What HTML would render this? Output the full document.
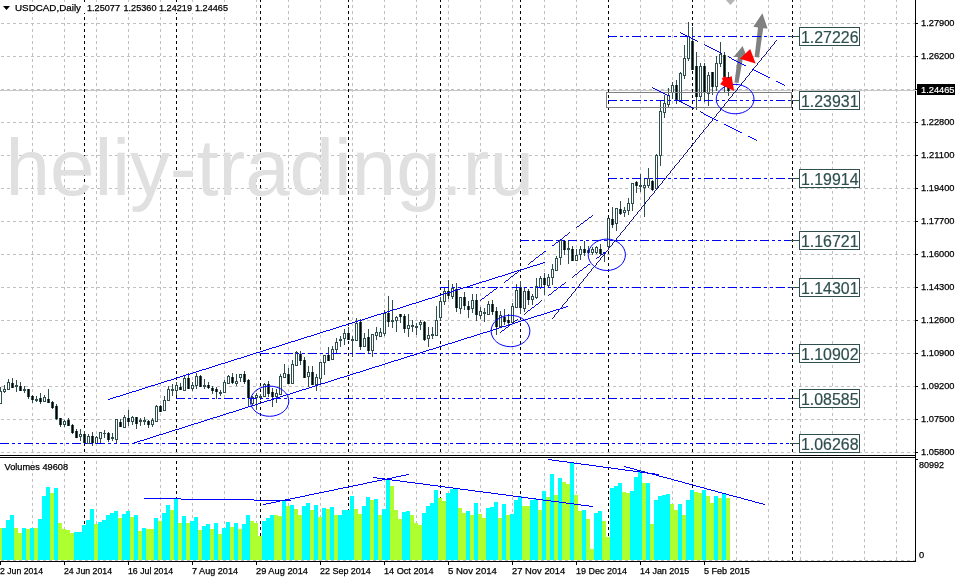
<!DOCTYPE html>
<html><head><meta charset="utf-8"><title>USDCAD,Daily</title>
<style>html,body{margin:0;padding:0;background:#fff;}body{width:955px;height:578px;overflow:hidden;}svg{display:block;}</style>
</head><body>
<svg width="955" height="578" viewBox="0 0 955 578" shape-rendering="crispEdges">
<rect x="0" y="0" width="955" height="578" fill="#FFFFFF"/>
<g stroke-width="1" fill="none">
<line x1="32.5" y1="-1" x2="32.5" y2="455" stroke="#C0C0C0" stroke-dasharray="3 3" stroke-dashoffset="0"/>
<line x1="32.5" y1="461" x2="32.5" y2="560" stroke="#C0C0C0" stroke-dasharray="3 3" stroke-dashoffset="0"/>
<line x1="64.5" y1="-1" x2="64.5" y2="455" stroke="#C0C0C0" stroke-dasharray="3 3" stroke-dashoffset="0"/>
<line x1="64.5" y1="461" x2="64.5" y2="560" stroke="#C0C0C0" stroke-dasharray="3 3" stroke-dashoffset="0"/>
<line x1="96.5" y1="-1" x2="96.5" y2="455" stroke="#C0C0C0" stroke-dasharray="3 3" stroke-dashoffset="0"/>
<line x1="96.5" y1="461" x2="96.5" y2="560" stroke="#C0C0C0" stroke-dasharray="3 3" stroke-dashoffset="0"/>
<line x1="128.5" y1="-1" x2="128.5" y2="455" stroke="#C0C0C0" stroke-dasharray="3 3" stroke-dashoffset="0"/>
<line x1="128.5" y1="461" x2="128.5" y2="560" stroke="#C0C0C0" stroke-dasharray="3 3" stroke-dashoffset="0"/>
<line x1="160.5" y1="-1" x2="160.5" y2="455" stroke="#C0C0C0" stroke-dasharray="3 3" stroke-dashoffset="0"/>
<line x1="160.5" y1="461" x2="160.5" y2="560" stroke="#C0C0C0" stroke-dasharray="3 3" stroke-dashoffset="0"/>
<line x1="192.5" y1="-1" x2="192.5" y2="455" stroke="#C0C0C0" stroke-dasharray="3 3" stroke-dashoffset="0"/>
<line x1="192.5" y1="461" x2="192.5" y2="560" stroke="#C0C0C0" stroke-dasharray="3 3" stroke-dashoffset="0"/>
<line x1="224.5" y1="-1" x2="224.5" y2="455" stroke="#C0C0C0" stroke-dasharray="3 3" stroke-dashoffset="0"/>
<line x1="224.5" y1="461" x2="224.5" y2="560" stroke="#C0C0C0" stroke-dasharray="3 3" stroke-dashoffset="0"/>
<line x1="256.5" y1="-1" x2="256.5" y2="455" stroke="#C0C0C0" stroke-dasharray="3 3" stroke-dashoffset="0"/>
<line x1="256.5" y1="461" x2="256.5" y2="560" stroke="#C0C0C0" stroke-dasharray="3 3" stroke-dashoffset="0"/>
<line x1="288.5" y1="-1" x2="288.5" y2="455" stroke="#C0C0C0" stroke-dasharray="3 3" stroke-dashoffset="0"/>
<line x1="288.5" y1="461" x2="288.5" y2="560" stroke="#C0C0C0" stroke-dasharray="3 3" stroke-dashoffset="0"/>
<line x1="320.5" y1="-1" x2="320.5" y2="455" stroke="#C0C0C0" stroke-dasharray="3 3" stroke-dashoffset="0"/>
<line x1="320.5" y1="461" x2="320.5" y2="560" stroke="#C0C0C0" stroke-dasharray="3 3" stroke-dashoffset="0"/>
<line x1="352.5" y1="-1" x2="352.5" y2="455" stroke="#C0C0C0" stroke-dasharray="3 3" stroke-dashoffset="0"/>
<line x1="352.5" y1="461" x2="352.5" y2="560" stroke="#C0C0C0" stroke-dasharray="3 3" stroke-dashoffset="0"/>
<line x1="384.5" y1="-1" x2="384.5" y2="455" stroke="#C0C0C0" stroke-dasharray="3 3" stroke-dashoffset="0"/>
<line x1="384.5" y1="461" x2="384.5" y2="560" stroke="#C0C0C0" stroke-dasharray="3 3" stroke-dashoffset="0"/>
<line x1="416.5" y1="-1" x2="416.5" y2="455" stroke="#C0C0C0" stroke-dasharray="3 3" stroke-dashoffset="0"/>
<line x1="416.5" y1="461" x2="416.5" y2="560" stroke="#C0C0C0" stroke-dasharray="3 3" stroke-dashoffset="0"/>
<line x1="448.5" y1="-1" x2="448.5" y2="455" stroke="#C0C0C0" stroke-dasharray="3 3" stroke-dashoffset="0"/>
<line x1="448.5" y1="461" x2="448.5" y2="560" stroke="#C0C0C0" stroke-dasharray="3 3" stroke-dashoffset="0"/>
<line x1="480.5" y1="-1" x2="480.5" y2="455" stroke="#C0C0C0" stroke-dasharray="3 3" stroke-dashoffset="0"/>
<line x1="480.5" y1="461" x2="480.5" y2="560" stroke="#C0C0C0" stroke-dasharray="3 3" stroke-dashoffset="0"/>
<line x1="512.5" y1="-1" x2="512.5" y2="455" stroke="#C0C0C0" stroke-dasharray="3 3" stroke-dashoffset="0"/>
<line x1="512.5" y1="461" x2="512.5" y2="560" stroke="#C0C0C0" stroke-dasharray="3 3" stroke-dashoffset="0"/>
<line x1="544.5" y1="-1" x2="544.5" y2="455" stroke="#C0C0C0" stroke-dasharray="3 3" stroke-dashoffset="0"/>
<line x1="544.5" y1="461" x2="544.5" y2="560" stroke="#C0C0C0" stroke-dasharray="3 3" stroke-dashoffset="0"/>
<line x1="576.5" y1="-1" x2="576.5" y2="455" stroke="#C0C0C0" stroke-dasharray="3 3" stroke-dashoffset="0"/>
<line x1="576.5" y1="461" x2="576.5" y2="560" stroke="#C0C0C0" stroke-dasharray="3 3" stroke-dashoffset="0"/>
<line x1="608.5" y1="-1" x2="608.5" y2="455" stroke="#C0C0C0" stroke-dasharray="3 3" stroke-dashoffset="0"/>
<line x1="608.5" y1="461" x2="608.5" y2="560" stroke="#C0C0C0" stroke-dasharray="3 3" stroke-dashoffset="0"/>
<line x1="640.5" y1="-1" x2="640.5" y2="455" stroke="#C0C0C0" stroke-dasharray="3 3" stroke-dashoffset="0"/>
<line x1="640.5" y1="461" x2="640.5" y2="560" stroke="#C0C0C0" stroke-dasharray="3 3" stroke-dashoffset="0"/>
<line x1="672.5" y1="-1" x2="672.5" y2="455" stroke="#C0C0C0" stroke-dasharray="3 3" stroke-dashoffset="0"/>
<line x1="672.5" y1="461" x2="672.5" y2="560" stroke="#C0C0C0" stroke-dasharray="3 3" stroke-dashoffset="0"/>
<line x1="704.5" y1="-1" x2="704.5" y2="455" stroke="#C0C0C0" stroke-dasharray="3 3" stroke-dashoffset="0"/>
<line x1="704.5" y1="461" x2="704.5" y2="560" stroke="#C0C0C0" stroke-dasharray="3 3" stroke-dashoffset="0"/>
<line x1="736.5" y1="-1" x2="736.5" y2="455" stroke="#C0C0C0" stroke-dasharray="3 3" stroke-dashoffset="0"/>
<line x1="736.5" y1="461" x2="736.5" y2="560" stroke="#C0C0C0" stroke-dasharray="3 3" stroke-dashoffset="0"/>
<line x1="768.5" y1="-1" x2="768.5" y2="455" stroke="#C0C0C0" stroke-dasharray="3 3" stroke-dashoffset="0"/>
<line x1="768.5" y1="461" x2="768.5" y2="560" stroke="#C0C0C0" stroke-dasharray="3 3" stroke-dashoffset="0"/>
<line x1="800.5" y1="-1" x2="800.5" y2="455" stroke="#C0C0C0" stroke-dasharray="3 3" stroke-dashoffset="0"/>
<line x1="800.5" y1="461" x2="800.5" y2="560" stroke="#C0C0C0" stroke-dasharray="3 3" stroke-dashoffset="0"/>
<line x1="832.5" y1="-1" x2="832.5" y2="455" stroke="#C0C0C0" stroke-dasharray="3 3" stroke-dashoffset="0"/>
<line x1="832.5" y1="461" x2="832.5" y2="560" stroke="#C0C0C0" stroke-dasharray="3 3" stroke-dashoffset="0"/>
<line x1="864.5" y1="-1" x2="864.5" y2="455" stroke="#C0C0C0" stroke-dasharray="3 3" stroke-dashoffset="0"/>
<line x1="864.5" y1="461" x2="864.5" y2="560" stroke="#C0C0C0" stroke-dasharray="3 3" stroke-dashoffset="0"/>
<line x1="896.5" y1="-1" x2="896.5" y2="455" stroke="#C0C0C0" stroke-dasharray="3 3" stroke-dashoffset="0"/>
<line x1="896.5" y1="461" x2="896.5" y2="560" stroke="#C0C0C0" stroke-dasharray="3 3" stroke-dashoffset="0"/>
<line x1="1" y1="23.5" x2="915" y2="23.5" stroke="#C0C0C0" stroke-dasharray="3 3" stroke-dashoffset="0"/>
<line x1="1" y1="56.5" x2="915" y2="56.5" stroke="#C0C0C0" stroke-dasharray="3 3" stroke-dashoffset="0"/>
<line x1="1" y1="89.5" x2="915" y2="89.5" stroke="#C0C0C0" stroke-dasharray="3 3" stroke-dashoffset="0"/>
<line x1="1" y1="122.5" x2="915" y2="122.5" stroke="#C0C0C0" stroke-dasharray="3 3" stroke-dashoffset="0"/>
<line x1="1" y1="155.5" x2="915" y2="155.5" stroke="#C0C0C0" stroke-dasharray="3 3" stroke-dashoffset="0"/>
<line x1="1" y1="188.5" x2="915" y2="188.5" stroke="#C0C0C0" stroke-dasharray="3 3" stroke-dashoffset="0"/>
<line x1="1" y1="221.5" x2="915" y2="221.5" stroke="#C0C0C0" stroke-dasharray="3 3" stroke-dashoffset="0"/>
<line x1="1" y1="254.5" x2="915" y2="254.5" stroke="#C0C0C0" stroke-dasharray="3 3" stroke-dashoffset="0"/>
<line x1="1" y1="287.5" x2="915" y2="287.5" stroke="#C0C0C0" stroke-dasharray="3 3" stroke-dashoffset="0"/>
<line x1="1" y1="320.5" x2="915" y2="320.5" stroke="#C0C0C0" stroke-dasharray="3 3" stroke-dashoffset="0"/>
<line x1="1" y1="353.5" x2="915" y2="353.5" stroke="#C0C0C0" stroke-dasharray="3 3" stroke-dashoffset="0"/>
<line x1="1" y1="386.5" x2="915" y2="386.5" stroke="#C0C0C0" stroke-dasharray="3 3" stroke-dashoffset="0"/>
<line x1="1" y1="419.5" x2="915" y2="419.5" stroke="#C0C0C0" stroke-dasharray="3 3" stroke-dashoffset="0"/>
<line x1="1" y1="452.5" x2="915" y2="452.5" stroke="#C0C0C0" stroke-dasharray="3 3" stroke-dashoffset="0"/>
<line x1="1" y1="560.5" x2="915" y2="560.5" stroke="#C0C0C0" stroke-dasharray="3 3" stroke-dashoffset="0"/>
<line x1="0" y1="90.5" x2="915" y2="90.5" stroke="#C8C8C8"/>
<line x1="84.5" y1="-1" x2="84.5" y2="455" stroke="#000000" stroke-dasharray="3 3" stroke-dashoffset="0"/>
<line x1="84.5" y1="461" x2="84.5" y2="561" stroke="#000000" stroke-dasharray="3 3" stroke-dashoffset="0"/>
<line x1="176.5" y1="-1" x2="176.5" y2="455" stroke="#000000" stroke-dasharray="3 3" stroke-dashoffset="0"/>
<line x1="176.5" y1="461" x2="176.5" y2="561" stroke="#000000" stroke-dasharray="3 3" stroke-dashoffset="0"/>
<line x1="260.5" y1="-1" x2="260.5" y2="455" stroke="#000000" stroke-dasharray="3 3" stroke-dashoffset="0"/>
<line x1="260.5" y1="461" x2="260.5" y2="561" stroke="#000000" stroke-dasharray="3 3" stroke-dashoffset="0"/>
<line x1="348.5" y1="-1" x2="348.5" y2="455" stroke="#000000" stroke-dasharray="3 3" stroke-dashoffset="0"/>
<line x1="348.5" y1="461" x2="348.5" y2="561" stroke="#000000" stroke-dasharray="3 3" stroke-dashoffset="0"/>
<line x1="440.5" y1="-1" x2="440.5" y2="455" stroke="#000000" stroke-dasharray="3 3" stroke-dashoffset="0"/>
<line x1="440.5" y1="461" x2="440.5" y2="561" stroke="#000000" stroke-dasharray="3 3" stroke-dashoffset="0"/>
<line x1="520.5" y1="-1" x2="520.5" y2="455" stroke="#000000" stroke-dasharray="3 3" stroke-dashoffset="0"/>
<line x1="520.5" y1="461" x2="520.5" y2="561" stroke="#000000" stroke-dasharray="3 3" stroke-dashoffset="0"/>
<line x1="608.5" y1="-1" x2="608.5" y2="455" stroke="#000000" stroke-dasharray="3 3" stroke-dashoffset="0"/>
<line x1="608.5" y1="461" x2="608.5" y2="561" stroke="#000000" stroke-dasharray="3 3" stroke-dashoffset="0"/>
<line x1="692.5" y1="-1" x2="692.5" y2="455" stroke="#000000" stroke-dasharray="3 3" stroke-dashoffset="0"/>
<line x1="692.5" y1="461" x2="692.5" y2="561" stroke="#000000" stroke-dasharray="3 3" stroke-dashoffset="0"/>
<line x1="792.5" y1="-1" x2="792.5" y2="455" stroke="#000000" stroke-dasharray="3 3" stroke-dashoffset="0"/>
<line x1="792.5" y1="461" x2="792.5" y2="561" stroke="#000000" stroke-dasharray="3 3" stroke-dashoffset="0"/>
</g>
<text x="5.6" y="194.5" font-family="Liberation Sans, Arial, sans-serif" font-size="80" fill="#E0E0E0" shape-rendering="auto" textLength="528.2" lengthAdjust="spacingAndGlyphs">heliy-trading.ru</text>
<g>
<rect x="0" y="387" width="1" height="17" fill="#2F4F4F"/>
<rect x="-1" y="391" width="3" height="13" fill="#2F4F4F"/>
<rect x="0" y="392" width="1" height="11" fill="#FFFFFF"/>
<rect x="4" y="385" width="1" height="8" fill="#2F4F4F"/>
<rect x="3" y="389" width="3" height="3" fill="#2F4F4F"/>
<rect x="4" y="390" width="1" height="1" fill="#FFFFFF"/>
<rect x="8" y="379" width="1" height="11" fill="#2F4F4F"/>
<rect x="7" y="382" width="3" height="8" fill="#2F4F4F"/>
<rect x="8" y="383" width="1" height="6" fill="#FFFFFF"/>
<rect x="12" y="378" width="1" height="10" fill="#2F4F4F"/>
<rect x="11" y="383" width="3" height="5" fill="#2F4F4F"/>
<rect x="12" y="383" width="1" height="5" fill="#000000"/>
<rect x="16" y="380" width="1" height="12" fill="#2F4F4F"/>
<rect x="15" y="385" width="3" height="2" fill="#2F4F4F"/>
<rect x="20" y="382" width="1" height="9" fill="#2F4F4F"/>
<rect x="19" y="386" width="3" height="5" fill="#2F4F4F"/>
<rect x="20" y="386" width="1" height="5" fill="#000000"/>
<rect x="24" y="386" width="1" height="7" fill="#2F4F4F"/>
<rect x="23" y="389" width="3" height="2" fill="#2F4F4F"/>
<rect x="28" y="389" width="1" height="10" fill="#2F4F4F"/>
<rect x="27" y="389" width="3" height="8" fill="#2F4F4F"/>
<rect x="28" y="389" width="1" height="8" fill="#000000"/>
<rect x="32" y="395" width="1" height="8" fill="#2F4F4F"/>
<rect x="31" y="396" width="3" height="4" fill="#2F4F4F"/>
<rect x="32" y="396" width="1" height="4" fill="#000000"/>
<rect x="36" y="396" width="1" height="6" fill="#2F4F4F"/>
<rect x="35" y="399" width="3" height="2" fill="#2F4F4F"/>
<rect x="40" y="393" width="1" height="11" fill="#2F4F4F"/>
<rect x="39" y="398" width="3" height="4" fill="#2F4F4F"/>
<rect x="40" y="398" width="1" height="4" fill="#000000"/>
<rect x="44" y="395" width="1" height="7" fill="#2F4F4F"/>
<rect x="43" y="397" width="3" height="5" fill="#2F4F4F"/>
<rect x="44" y="398" width="1" height="3" fill="#FFFFFF"/>
<rect x="48" y="389" width="1" height="14" fill="#2F4F4F"/>
<rect x="47" y="399" width="3" height="4" fill="#2F4F4F"/>
<rect x="48" y="399" width="1" height="4" fill="#000000"/>
<rect x="52" y="401" width="1" height="8" fill="#2F4F4F"/>
<rect x="51" y="402" width="3" height="6" fill="#2F4F4F"/>
<rect x="52" y="402" width="1" height="6" fill="#000000"/>
<rect x="56" y="404" width="1" height="16" fill="#2F4F4F"/>
<rect x="55" y="406" width="3" height="13" fill="#2F4F4F"/>
<rect x="56" y="406" width="1" height="13" fill="#000000"/>
<rect x="60" y="418" width="1" height="9" fill="#2F4F4F"/>
<rect x="59" y="418" width="3" height="7" fill="#2F4F4F"/>
<rect x="60" y="418" width="1" height="7" fill="#000000"/>
<rect x="64" y="420" width="1" height="7" fill="#2F4F4F"/>
<rect x="63" y="421" width="3" height="4" fill="#2F4F4F"/>
<rect x="64" y="422" width="1" height="2" fill="#FFFFFF"/>
<rect x="68" y="418" width="1" height="8" fill="#2F4F4F"/>
<rect x="67" y="420" width="3" height="6" fill="#2F4F4F"/>
<rect x="68" y="420" width="1" height="6" fill="#000000"/>
<rect x="72" y="424" width="1" height="10" fill="#2F4F4F"/>
<rect x="71" y="425" width="3" height="8" fill="#2F4F4F"/>
<rect x="72" y="425" width="1" height="8" fill="#000000"/>
<rect x="76" y="429" width="1" height="9" fill="#2F4F4F"/>
<rect x="75" y="431" width="3" height="7" fill="#2F4F4F"/>
<rect x="76" y="431" width="1" height="7" fill="#000000"/>
<rect x="80" y="429" width="1" height="12" fill="#2F4F4F"/>
<rect x="79" y="434" width="3" height="3" fill="#2F4F4F"/>
<rect x="80" y="435" width="1" height="1" fill="#FFFFFF"/>
<rect x="84" y="431" width="1" height="12" fill="#2F4F4F"/>
<rect x="83" y="434" width="3" height="9" fill="#2F4F4F"/>
<rect x="84" y="434" width="1" height="9" fill="#000000"/>
<rect x="88" y="434" width="1" height="10" fill="#2F4F4F"/>
<rect x="87" y="436" width="3" height="8" fill="#2F4F4F"/>
<rect x="88" y="437" width="1" height="6" fill="#FFFFFF"/>
<rect x="92" y="432" width="1" height="14" fill="#2F4F4F"/>
<rect x="91" y="436" width="3" height="7" fill="#2F4F4F"/>
<rect x="92" y="436" width="1" height="7" fill="#000000"/>
<rect x="96" y="436" width="1" height="8" fill="#2F4F4F"/>
<rect x="95" y="437" width="3" height="7" fill="#2F4F4F"/>
<rect x="96" y="438" width="1" height="5" fill="#FFFFFF"/>
<rect x="100" y="432" width="1" height="12" fill="#2F4F4F"/>
<rect x="99" y="432" width="3" height="7" fill="#2F4F4F"/>
<rect x="100" y="433" width="1" height="5" fill="#FFFFFF"/>
<rect x="104" y="430" width="1" height="8" fill="#2F4F4F"/>
<rect x="103" y="433" width="3" height="1" fill="#2F4F4F"/>
<rect x="108" y="432" width="1" height="10" fill="#2F4F4F"/>
<rect x="107" y="433" width="3" height="7" fill="#2F4F4F"/>
<rect x="108" y="433" width="1" height="7" fill="#000000"/>
<rect x="112" y="433" width="1" height="8" fill="#2F4F4F"/>
<rect x="111" y="437" width="3" height="2" fill="#2F4F4F"/>
<rect x="116" y="419" width="1" height="25" fill="#2F4F4F"/>
<rect x="115" y="419" width="3" height="21" fill="#2F4F4F"/>
<rect x="116" y="420" width="1" height="19" fill="#FFFFFF"/>
<rect x="120" y="419" width="1" height="8" fill="#2F4F4F"/>
<rect x="119" y="422" width="3" height="5" fill="#2F4F4F"/>
<rect x="120" y="422" width="1" height="5" fill="#000000"/>
<rect x="124" y="415" width="1" height="13" fill="#2F4F4F"/>
<rect x="123" y="417" width="3" height="11" fill="#2F4F4F"/>
<rect x="124" y="418" width="1" height="9" fill="#FFFFFF"/>
<rect x="128" y="410" width="1" height="16" fill="#2F4F4F"/>
<rect x="127" y="418" width="3" height="4" fill="#2F4F4F"/>
<rect x="128" y="418" width="1" height="4" fill="#000000"/>
<rect x="132" y="416" width="1" height="9" fill="#2F4F4F"/>
<rect x="131" y="417" width="3" height="5" fill="#2F4F4F"/>
<rect x="132" y="418" width="1" height="3" fill="#FFFFFF"/>
<rect x="136" y="417" width="1" height="12" fill="#2F4F4F"/>
<rect x="135" y="417" width="3" height="7" fill="#2F4F4F"/>
<rect x="136" y="417" width="1" height="7" fill="#000000"/>
<rect x="140" y="418" width="1" height="8" fill="#2F4F4F"/>
<rect x="139" y="420" width="3" height="2" fill="#2F4F4F"/>
<rect x="144" y="417" width="1" height="8" fill="#2F4F4F"/>
<rect x="143" y="420" width="3" height="2" fill="#2F4F4F"/>
<rect x="148" y="420" width="1" height="8" fill="#2F4F4F"/>
<rect x="147" y="421" width="3" height="4" fill="#2F4F4F"/>
<rect x="148" y="421" width="1" height="4" fill="#000000"/>
<rect x="152" y="418" width="1" height="9" fill="#2F4F4F"/>
<rect x="151" y="420" width="3" height="5" fill="#2F4F4F"/>
<rect x="152" y="421" width="1" height="3" fill="#FFFFFF"/>
<rect x="156" y="405" width="1" height="17" fill="#2F4F4F"/>
<rect x="155" y="406" width="3" height="16" fill="#2F4F4F"/>
<rect x="156" y="407" width="1" height="14" fill="#FFFFFF"/>
<rect x="160" y="405" width="1" height="7" fill="#2F4F4F"/>
<rect x="159" y="406" width="3" height="6" fill="#2F4F4F"/>
<rect x="160" y="406" width="1" height="6" fill="#000000"/>
<rect x="164" y="396" width="1" height="15" fill="#2F4F4F"/>
<rect x="163" y="400" width="3" height="11" fill="#2F4F4F"/>
<rect x="164" y="401" width="1" height="9" fill="#FFFFFF"/>
<rect x="168" y="386" width="1" height="15" fill="#2F4F4F"/>
<rect x="167" y="389" width="3" height="12" fill="#2F4F4F"/>
<rect x="168" y="390" width="1" height="10" fill="#FFFFFF"/>
<rect x="172" y="384" width="1" height="12" fill="#2F4F4F"/>
<rect x="171" y="389" width="3" height="2" fill="#2F4F4F"/>
<rect x="176" y="382" width="1" height="13" fill="#2F4F4F"/>
<rect x="175" y="385" width="3" height="6" fill="#2F4F4F"/>
<rect x="176" y="386" width="1" height="4" fill="#FFFFFF"/>
<rect x="180" y="383" width="1" height="7" fill="#2F4F4F"/>
<rect x="179" y="387" width="3" height="3" fill="#2F4F4F"/>
<rect x="180" y="387" width="1" height="3" fill="#000000"/>
<rect x="184" y="376" width="1" height="15" fill="#2F4F4F"/>
<rect x="183" y="378" width="3" height="13" fill="#2F4F4F"/>
<rect x="184" y="379" width="1" height="11" fill="#FFFFFF"/>
<rect x="188" y="373" width="1" height="16" fill="#2F4F4F"/>
<rect x="187" y="378" width="3" height="11" fill="#2F4F4F"/>
<rect x="188" y="378" width="1" height="11" fill="#000000"/>
<rect x="192" y="382" width="1" height="9" fill="#2F4F4F"/>
<rect x="191" y="385" width="3" height="4" fill="#2F4F4F"/>
<rect x="192" y="386" width="1" height="2" fill="#FFFFFF"/>
<rect x="196" y="373" width="1" height="16" fill="#2F4F4F"/>
<rect x="195" y="376" width="3" height="10" fill="#2F4F4F"/>
<rect x="196" y="377" width="1" height="8" fill="#FFFFFF"/>
<rect x="200" y="375" width="1" height="12" fill="#2F4F4F"/>
<rect x="199" y="376" width="3" height="11" fill="#2F4F4F"/>
<rect x="200" y="376" width="1" height="11" fill="#000000"/>
<rect x="204" y="379" width="1" height="10" fill="#2F4F4F"/>
<rect x="203" y="385" width="3" height="2" fill="#2F4F4F"/>
<rect x="208" y="382" width="1" height="7" fill="#2F4F4F"/>
<rect x="207" y="385" width="3" height="3" fill="#2F4F4F"/>
<rect x="208" y="385" width="1" height="3" fill="#000000"/>
<rect x="212" y="386" width="1" height="8" fill="#2F4F4F"/>
<rect x="211" y="388" width="3" height="3" fill="#2F4F4F"/>
<rect x="212" y="388" width="1" height="3" fill="#000000"/>
<rect x="216" y="387" width="1" height="12" fill="#2F4F4F"/>
<rect x="215" y="389" width="3" height="3" fill="#2F4F4F"/>
<rect x="216" y="389" width="1" height="3" fill="#000000"/>
<rect x="220" y="390" width="1" height="6" fill="#2F4F4F"/>
<rect x="219" y="392" width="3" height="2" fill="#2F4F4F"/>
<rect x="224" y="380" width="1" height="13" fill="#2F4F4F"/>
<rect x="223" y="382" width="3" height="11" fill="#2F4F4F"/>
<rect x="224" y="383" width="1" height="9" fill="#FFFFFF"/>
<rect x="228" y="375" width="1" height="9" fill="#2F4F4F"/>
<rect x="227" y="376" width="3" height="8" fill="#2F4F4F"/>
<rect x="228" y="377" width="1" height="6" fill="#FFFFFF"/>
<rect x="232" y="373" width="1" height="11" fill="#2F4F4F"/>
<rect x="231" y="377" width="3" height="6" fill="#2F4F4F"/>
<rect x="232" y="377" width="1" height="6" fill="#000000"/>
<rect x="236" y="374" width="1" height="12" fill="#2F4F4F"/>
<rect x="235" y="381" width="3" height="3" fill="#2F4F4F"/>
<rect x="236" y="382" width="1" height="1" fill="#FFFFFF"/>
<rect x="240" y="374" width="1" height="8" fill="#2F4F4F"/>
<rect x="239" y="374" width="3" height="4" fill="#2F4F4F"/>
<rect x="240" y="375" width="1" height="2" fill="#FFFFFF"/>
<rect x="244" y="371" width="1" height="13" fill="#2F4F4F"/>
<rect x="243" y="374" width="3" height="8" fill="#2F4F4F"/>
<rect x="244" y="374" width="1" height="8" fill="#000000"/>
<rect x="248" y="379" width="1" height="27" fill="#2F4F4F"/>
<rect x="247" y="380" width="3" height="18" fill="#2F4F4F"/>
<rect x="248" y="380" width="1" height="18" fill="#000000"/>
<rect x="252" y="396" width="1" height="9" fill="#2F4F4F"/>
<rect x="251" y="397" width="3" height="7" fill="#2F4F4F"/>
<rect x="252" y="398" width="1" height="5" fill="#FFFFFF"/>
<rect x="256" y="393" width="1" height="17" fill="#2F4F4F"/>
<rect x="255" y="395" width="3" height="3" fill="#2F4F4F"/>
<rect x="256" y="396" width="1" height="1" fill="#FFFFFF"/>
<rect x="260" y="394" width="1" height="6" fill="#2F4F4F"/>
<rect x="259" y="396" width="3" height="2" fill="#2F4F4F"/>
<rect x="264" y="383" width="1" height="14" fill="#2F4F4F"/>
<rect x="263" y="384" width="3" height="13" fill="#2F4F4F"/>
<rect x="264" y="385" width="1" height="11" fill="#FFFFFF"/>
<rect x="268" y="381" width="1" height="16" fill="#2F4F4F"/>
<rect x="267" y="384" width="3" height="10" fill="#2F4F4F"/>
<rect x="268" y="384" width="1" height="10" fill="#000000"/>
<rect x="272" y="388" width="1" height="19" fill="#2F4F4F"/>
<rect x="271" y="392" width="3" height="5" fill="#2F4F4F"/>
<rect x="272" y="392" width="1" height="5" fill="#000000"/>
<rect x="276" y="389" width="1" height="14" fill="#2F4F4F"/>
<rect x="275" y="393" width="3" height="4" fill="#2F4F4F"/>
<rect x="276" y="394" width="1" height="2" fill="#FFFFFF"/>
<rect x="280" y="374" width="1" height="21" fill="#2F4F4F"/>
<rect x="279" y="376" width="3" height="19" fill="#2F4F4F"/>
<rect x="280" y="377" width="1" height="17" fill="#FFFFFF"/>
<rect x="284" y="364" width="1" height="14" fill="#2F4F4F"/>
<rect x="283" y="373" width="3" height="5" fill="#2F4F4F"/>
<rect x="284" y="374" width="1" height="3" fill="#FFFFFF"/>
<rect x="288" y="368" width="1" height="16" fill="#2F4F4F"/>
<rect x="287" y="374" width="3" height="10" fill="#2F4F4F"/>
<rect x="288" y="374" width="1" height="10" fill="#000000"/>
<rect x="292" y="360" width="1" height="24" fill="#2F4F4F"/>
<rect x="291" y="364" width="3" height="20" fill="#2F4F4F"/>
<rect x="292" y="365" width="1" height="18" fill="#FFFFFF"/>
<rect x="296" y="351" width="1" height="15" fill="#2F4F4F"/>
<rect x="295" y="352" width="3" height="14" fill="#2F4F4F"/>
<rect x="296" y="353" width="1" height="12" fill="#FFFFFF"/>
<rect x="300" y="351" width="1" height="14" fill="#2F4F4F"/>
<rect x="299" y="354" width="3" height="7" fill="#2F4F4F"/>
<rect x="300" y="354" width="1" height="7" fill="#000000"/>
<rect x="304" y="357" width="1" height="21" fill="#2F4F4F"/>
<rect x="303" y="360" width="3" height="18" fill="#2F4F4F"/>
<rect x="304" y="360" width="1" height="18" fill="#000000"/>
<rect x="308" y="366" width="1" height="21" fill="#2F4F4F"/>
<rect x="307" y="372" width="3" height="5" fill="#2F4F4F"/>
<rect x="308" y="373" width="1" height="3" fill="#FFFFFF"/>
<rect x="312" y="366" width="1" height="19" fill="#2F4F4F"/>
<rect x="311" y="372" width="3" height="13" fill="#2F4F4F"/>
<rect x="312" y="372" width="1" height="13" fill="#000000"/>
<rect x="316" y="374" width="1" height="17" fill="#2F4F4F"/>
<rect x="315" y="377" width="3" height="8" fill="#2F4F4F"/>
<rect x="316" y="378" width="1" height="6" fill="#FFFFFF"/>
<rect x="320" y="362" width="1" height="22" fill="#2F4F4F"/>
<rect x="319" y="362" width="3" height="17" fill="#2F4F4F"/>
<rect x="320" y="363" width="1" height="15" fill="#FFFFFF"/>
<rect x="324" y="355" width="1" height="20" fill="#2F4F4F"/>
<rect x="323" y="355" width="3" height="8" fill="#2F4F4F"/>
<rect x="324" y="356" width="1" height="6" fill="#FFFFFF"/>
<rect x="328" y="347" width="1" height="14" fill="#2F4F4F"/>
<rect x="327" y="355" width="3" height="6" fill="#2F4F4F"/>
<rect x="328" y="355" width="1" height="6" fill="#000000"/>
<rect x="332" y="346" width="1" height="14" fill="#2F4F4F"/>
<rect x="331" y="349" width="3" height="11" fill="#2F4F4F"/>
<rect x="332" y="350" width="1" height="9" fill="#FFFFFF"/>
<rect x="336" y="338" width="1" height="16" fill="#2F4F4F"/>
<rect x="335" y="342" width="3" height="8" fill="#2F4F4F"/>
<rect x="336" y="343" width="1" height="6" fill="#FFFFFF"/>
<rect x="340" y="336" width="1" height="11" fill="#2F4F4F"/>
<rect x="339" y="339" width="3" height="2" fill="#2F4F4F"/>
<rect x="344" y="329" width="1" height="16" fill="#2F4F4F"/>
<rect x="343" y="333" width="3" height="6" fill="#2F4F4F"/>
<rect x="344" y="334" width="1" height="4" fill="#FFFFFF"/>
<rect x="348" y="327" width="1" height="13" fill="#2F4F4F"/>
<rect x="347" y="333" width="3" height="7" fill="#2F4F4F"/>
<rect x="348" y="333" width="1" height="7" fill="#000000"/>
<rect x="352" y="336" width="1" height="21" fill="#2F4F4F"/>
<rect x="351" y="339" width="3" height="2" fill="#2F4F4F"/>
<rect x="356" y="318" width="1" height="23" fill="#2F4F4F"/>
<rect x="355" y="323" width="3" height="18" fill="#2F4F4F"/>
<rect x="356" y="324" width="1" height="16" fill="#FFFFFF"/>
<rect x="360" y="319" width="1" height="31" fill="#2F4F4F"/>
<rect x="359" y="322" width="3" height="25" fill="#2F4F4F"/>
<rect x="360" y="322" width="1" height="25" fill="#000000"/>
<rect x="364" y="333" width="1" height="14" fill="#2F4F4F"/>
<rect x="363" y="338" width="3" height="9" fill="#2F4F4F"/>
<rect x="364" y="339" width="1" height="7" fill="#FFFFFF"/>
<rect x="368" y="329" width="1" height="25" fill="#2F4F4F"/>
<rect x="367" y="337" width="3" height="14" fill="#2F4F4F"/>
<rect x="368" y="337" width="1" height="14" fill="#000000"/>
<rect x="372" y="334" width="1" height="23" fill="#2F4F4F"/>
<rect x="371" y="334" width="3" height="17" fill="#2F4F4F"/>
<rect x="372" y="335" width="1" height="15" fill="#FFFFFF"/>
<rect x="376" y="327" width="1" height="13" fill="#2F4F4F"/>
<rect x="375" y="332" width="3" height="4" fill="#2F4F4F"/>
<rect x="376" y="333" width="1" height="2" fill="#FFFFFF"/>
<rect x="380" y="328" width="1" height="9" fill="#2F4F4F"/>
<rect x="379" y="332" width="3" height="5" fill="#2F4F4F"/>
<rect x="380" y="333" width="1" height="3" fill="#FFFFFF"/>
<rect x="384" y="310" width="1" height="26" fill="#2F4F4F"/>
<rect x="383" y="313" width="3" height="21" fill="#2F4F4F"/>
<rect x="384" y="314" width="1" height="19" fill="#FFFFFF"/>
<rect x="388" y="296" width="1" height="31" fill="#2F4F4F"/>
<rect x="387" y="313" width="3" height="9" fill="#2F4F4F"/>
<rect x="388" y="313" width="1" height="9" fill="#000000"/>
<rect x="392" y="300" width="1" height="28" fill="#2F4F4F"/>
<rect x="391" y="320" width="3" height="2" fill="#2F4F4F"/>
<rect x="396" y="316" width="1" height="16" fill="#2F4F4F"/>
<rect x="395" y="317" width="3" height="4" fill="#2F4F4F"/>
<rect x="396" y="318" width="1" height="2" fill="#FFFFFF"/>
<rect x="400" y="314" width="1" height="9" fill="#2F4F4F"/>
<rect x="399" y="314" width="3" height="3" fill="#2F4F4F"/>
<rect x="400" y="314" width="1" height="3" fill="#000000"/>
<rect x="404" y="314" width="1" height="19" fill="#2F4F4F"/>
<rect x="403" y="316" width="3" height="13" fill="#2F4F4F"/>
<rect x="404" y="316" width="1" height="13" fill="#000000"/>
<rect x="408" y="314" width="1" height="23" fill="#2F4F4F"/>
<rect x="407" y="325" width="3" height="4" fill="#2F4F4F"/>
<rect x="408" y="326" width="1" height="2" fill="#FFFFFF"/>
<rect x="412" y="320" width="1" height="12" fill="#2F4F4F"/>
<rect x="411" y="325" width="3" height="2" fill="#2F4F4F"/>
<rect x="416" y="323" width="1" height="12" fill="#2F4F4F"/>
<rect x="415" y="326" width="3" height="2" fill="#2F4F4F"/>
<rect x="420" y="320" width="1" height="10" fill="#2F4F4F"/>
<rect x="419" y="322" width="3" height="3" fill="#2F4F4F"/>
<rect x="420" y="323" width="1" height="1" fill="#FFFFFF"/>
<rect x="424" y="321" width="1" height="20" fill="#2F4F4F"/>
<rect x="423" y="322" width="3" height="18" fill="#2F4F4F"/>
<rect x="424" y="322" width="1" height="18" fill="#000000"/>
<rect x="428" y="327" width="1" height="20" fill="#2F4F4F"/>
<rect x="427" y="335" width="3" height="4" fill="#2F4F4F"/>
<rect x="428" y="336" width="1" height="2" fill="#FFFFFF"/>
<rect x="432" y="327" width="1" height="12" fill="#2F4F4F"/>
<rect x="431" y="334" width="3" height="2" fill="#2F4F4F"/>
<rect x="436" y="306" width="1" height="30" fill="#2F4F4F"/>
<rect x="435" y="320" width="3" height="16" fill="#2F4F4F"/>
<rect x="436" y="321" width="1" height="14" fill="#FFFFFF"/>
<rect x="440" y="297" width="1" height="24" fill="#2F4F4F"/>
<rect x="439" y="301" width="3" height="17" fill="#2F4F4F"/>
<rect x="440" y="302" width="1" height="15" fill="#FFFFFF"/>
<rect x="444" y="288" width="1" height="17" fill="#2F4F4F"/>
<rect x="443" y="291" width="3" height="11" fill="#2F4F4F"/>
<rect x="444" y="292" width="1" height="9" fill="#FFFFFF"/>
<rect x="448" y="280" width="1" height="19" fill="#2F4F4F"/>
<rect x="447" y="291" width="3" height="5" fill="#2F4F4F"/>
<rect x="448" y="291" width="1" height="5" fill="#000000"/>
<rect x="452" y="284" width="1" height="15" fill="#2F4F4F"/>
<rect x="451" y="288" width="3" height="9" fill="#2F4F4F"/>
<rect x="452" y="289" width="1" height="7" fill="#FFFFFF"/>
<rect x="456" y="283" width="1" height="29" fill="#2F4F4F"/>
<rect x="455" y="289" width="3" height="19" fill="#2F4F4F"/>
<rect x="456" y="289" width="1" height="19" fill="#000000"/>
<rect x="460" y="297" width="1" height="17" fill="#2F4F4F"/>
<rect x="459" y="297" width="3" height="12" fill="#2F4F4F"/>
<rect x="460" y="298" width="1" height="10" fill="#FFFFFF"/>
<rect x="464" y="292" width="1" height="18" fill="#2F4F4F"/>
<rect x="463" y="297" width="3" height="9" fill="#2F4F4F"/>
<rect x="464" y="297" width="1" height="9" fill="#000000"/>
<rect x="468" y="301" width="1" height="17" fill="#2F4F4F"/>
<rect x="467" y="306" width="3" height="4" fill="#2F4F4F"/>
<rect x="468" y="306" width="1" height="4" fill="#000000"/>
<rect x="472" y="294" width="1" height="19" fill="#2F4F4F"/>
<rect x="471" y="300" width="3" height="9" fill="#2F4F4F"/>
<rect x="472" y="301" width="1" height="7" fill="#FFFFFF"/>
<rect x="476" y="294" width="1" height="27" fill="#2F4F4F"/>
<rect x="475" y="300" width="3" height="15" fill="#2F4F4F"/>
<rect x="476" y="300" width="1" height="15" fill="#000000"/>
<rect x="480" y="307" width="1" height="12" fill="#2F4F4F"/>
<rect x="479" y="311" width="3" height="5" fill="#2F4F4F"/>
<rect x="480" y="312" width="1" height="3" fill="#FFFFFF"/>
<rect x="484" y="308" width="1" height="14" fill="#2F4F4F"/>
<rect x="483" y="312" width="3" height="2" fill="#2F4F4F"/>
<rect x="488" y="301" width="1" height="14" fill="#2F4F4F"/>
<rect x="487" y="304" width="3" height="11" fill="#2F4F4F"/>
<rect x="488" y="305" width="1" height="9" fill="#FFFFFF"/>
<rect x="492" y="300" width="1" height="15" fill="#2F4F4F"/>
<rect x="491" y="304" width="3" height="8" fill="#2F4F4F"/>
<rect x="492" y="304" width="1" height="8" fill="#000000"/>
<rect x="496" y="307" width="1" height="28" fill="#2F4F4F"/>
<rect x="495" y="311" width="3" height="16" fill="#2F4F4F"/>
<rect x="496" y="311" width="1" height="16" fill="#000000"/>
<rect x="500" y="311" width="1" height="16" fill="#2F4F4F"/>
<rect x="499" y="315" width="3" height="12" fill="#2F4F4F"/>
<rect x="500" y="316" width="1" height="10" fill="#FFFFFF"/>
<rect x="504" y="309" width="1" height="16" fill="#2F4F4F"/>
<rect x="503" y="317" width="3" height="5" fill="#2F4F4F"/>
<rect x="504" y="317" width="1" height="5" fill="#000000"/>
<rect x="508" y="314" width="1" height="11" fill="#2F4F4F"/>
<rect x="507" y="320" width="3" height="3" fill="#2F4F4F"/>
<rect x="508" y="320" width="1" height="3" fill="#000000"/>
<rect x="512" y="303" width="1" height="20" fill="#2F4F4F"/>
<rect x="511" y="306" width="3" height="17" fill="#2F4F4F"/>
<rect x="512" y="307" width="1" height="15" fill="#FFFFFF"/>
<rect x="516" y="284" width="1" height="24" fill="#2F4F4F"/>
<rect x="515" y="290" width="3" height="18" fill="#2F4F4F"/>
<rect x="516" y="291" width="1" height="16" fill="#FFFFFF"/>
<rect x="520" y="281" width="1" height="33" fill="#2F4F4F"/>
<rect x="519" y="287" width="3" height="21" fill="#2F4F4F"/>
<rect x="520" y="287" width="1" height="21" fill="#000000"/>
<rect x="524" y="288" width="1" height="24" fill="#2F4F4F"/>
<rect x="523" y="291" width="3" height="18" fill="#2F4F4F"/>
<rect x="524" y="292" width="1" height="16" fill="#FFFFFF"/>
<rect x="528" y="289" width="1" height="16" fill="#2F4F4F"/>
<rect x="527" y="291" width="3" height="9" fill="#2F4F4F"/>
<rect x="528" y="291" width="1" height="9" fill="#000000"/>
<rect x="532" y="294" width="1" height="11" fill="#2F4F4F"/>
<rect x="531" y="296" width="3" height="4" fill="#2F4F4F"/>
<rect x="532" y="297" width="1" height="2" fill="#FFFFFF"/>
<rect x="536" y="278" width="1" height="21" fill="#2F4F4F"/>
<rect x="535" y="286" width="3" height="12" fill="#2F4F4F"/>
<rect x="536" y="287" width="1" height="10" fill="#FFFFFF"/>
<rect x="540" y="276" width="1" height="13" fill="#2F4F4F"/>
<rect x="539" y="278" width="3" height="10" fill="#2F4F4F"/>
<rect x="540" y="279" width="1" height="8" fill="#FFFFFF"/>
<rect x="544" y="273" width="1" height="22" fill="#2F4F4F"/>
<rect x="543" y="278" width="3" height="7" fill="#2F4F4F"/>
<rect x="544" y="278" width="1" height="7" fill="#000000"/>
<rect x="548" y="274" width="1" height="14" fill="#2F4F4F"/>
<rect x="547" y="277" width="3" height="9" fill="#2F4F4F"/>
<rect x="548" y="278" width="1" height="7" fill="#FFFFFF"/>
<rect x="552" y="264" width="1" height="21" fill="#2F4F4F"/>
<rect x="551" y="269" width="3" height="9" fill="#2F4F4F"/>
<rect x="552" y="270" width="1" height="7" fill="#FFFFFF"/>
<rect x="556" y="256" width="1" height="15" fill="#2F4F4F"/>
<rect x="555" y="258" width="3" height="13" fill="#2F4F4F"/>
<rect x="556" y="259" width="1" height="11" fill="#FFFFFF"/>
<rect x="560" y="240" width="1" height="25" fill="#2F4F4F"/>
<rect x="559" y="240" width="3" height="18" fill="#2F4F4F"/>
<rect x="560" y="241" width="1" height="16" fill="#FFFFFF"/>
<rect x="564" y="240" width="1" height="15" fill="#2F4F4F"/>
<rect x="563" y="241" width="3" height="9" fill="#2F4F4F"/>
<rect x="564" y="241" width="1" height="9" fill="#000000"/>
<rect x="568" y="241" width="1" height="23" fill="#2F4F4F"/>
<rect x="567" y="248" width="3" height="2" fill="#2F4F4F"/>
<rect x="572" y="246" width="1" height="15" fill="#2F4F4F"/>
<rect x="571" y="249" width="3" height="12" fill="#2F4F4F"/>
<rect x="572" y="249" width="1" height="12" fill="#000000"/>
<rect x="576" y="249" width="1" height="12" fill="#2F4F4F"/>
<rect x="575" y="255" width="3" height="6" fill="#2F4F4F"/>
<rect x="576" y="256" width="1" height="4" fill="#FFFFFF"/>
<rect x="580" y="246" width="1" height="14" fill="#2F4F4F"/>
<rect x="579" y="249" width="3" height="6" fill="#2F4F4F"/>
<rect x="580" y="250" width="1" height="4" fill="#FFFFFF"/>
<rect x="584" y="241" width="1" height="15" fill="#2F4F4F"/>
<rect x="583" y="249" width="3" height="4" fill="#2F4F4F"/>
<rect x="584" y="249" width="1" height="4" fill="#000000"/>
<rect x="588" y="246" width="1" height="8" fill="#2F4F4F"/>
<rect x="587" y="250" width="3" height="3" fill="#2F4F4F"/>
<rect x="588" y="250" width="1" height="3" fill="#000000"/>
<rect x="592" y="247" width="1" height="8" fill="#2F4F4F"/>
<rect x="591" y="249" width="3" height="4" fill="#2F4F4F"/>
<rect x="592" y="250" width="1" height="2" fill="#FFFFFF"/>
<rect x="596" y="246" width="1" height="8" fill="#2F4F4F"/>
<rect x="595" y="247" width="3" height="6" fill="#2F4F4F"/>
<rect x="596" y="248" width="1" height="4" fill="#FFFFFF"/>
<rect x="600" y="244" width="1" height="11" fill="#2F4F4F"/>
<rect x="599" y="249" width="3" height="5" fill="#2F4F4F"/>
<rect x="600" y="249" width="1" height="5" fill="#000000"/>
<rect x="604" y="252" width="1" height="10" fill="#2F4F4F"/>
<rect x="603" y="252" width="3" height="2" fill="#2F4F4F"/>
<rect x="608" y="218" width="1" height="30" fill="#2F4F4F"/>
<rect x="607" y="218" width="3" height="29" fill="#2F4F4F"/>
<rect x="608" y="219" width="1" height="27" fill="#FFFFFF"/>
<rect x="612" y="207" width="1" height="21" fill="#2F4F4F"/>
<rect x="611" y="219" width="3" height="6" fill="#2F4F4F"/>
<rect x="612" y="219" width="1" height="6" fill="#000000"/>
<rect x="616" y="208" width="1" height="23" fill="#2F4F4F"/>
<rect x="615" y="208" width="3" height="16" fill="#2F4F4F"/>
<rect x="616" y="209" width="1" height="14" fill="#FFFFFF"/>
<rect x="620" y="201" width="1" height="14" fill="#2F4F4F"/>
<rect x="619" y="209" width="3" height="5" fill="#2F4F4F"/>
<rect x="620" y="209" width="1" height="5" fill="#000000"/>
<rect x="624" y="207" width="1" height="10" fill="#2F4F4F"/>
<rect x="623" y="210" width="3" height="3" fill="#2F4F4F"/>
<rect x="624" y="211" width="1" height="1" fill="#FFFFFF"/>
<rect x="628" y="198" width="1" height="17" fill="#2F4F4F"/>
<rect x="627" y="203" width="3" height="8" fill="#2F4F4F"/>
<rect x="628" y="204" width="1" height="6" fill="#FFFFFF"/>
<rect x="632" y="183" width="1" height="28" fill="#2F4F4F"/>
<rect x="631" y="183" width="3" height="21" fill="#2F4F4F"/>
<rect x="632" y="184" width="1" height="19" fill="#FFFFFF"/>
<rect x="636" y="181" width="1" height="12" fill="#2F4F4F"/>
<rect x="635" y="182" width="3" height="4" fill="#2F4F4F"/>
<rect x="636" y="182" width="1" height="4" fill="#000000"/>
<rect x="640" y="174" width="1" height="18" fill="#2F4F4F"/>
<rect x="639" y="185" width="3" height="2" fill="#2F4F4F"/>
<rect x="644" y="178" width="1" height="39" fill="#2F4F4F"/>
<rect x="643" y="185" width="3" height="3" fill="#2F4F4F"/>
<rect x="644" y="186" width="1" height="1" fill="#FFFFFF"/>
<rect x="648" y="168" width="1" height="20" fill="#2F4F4F"/>
<rect x="647" y="178" width="3" height="8" fill="#2F4F4F"/>
<rect x="648" y="179" width="1" height="6" fill="#FFFFFF"/>
<rect x="652" y="180" width="1" height="11" fill="#2F4F4F"/>
<rect x="651" y="181" width="3" height="9" fill="#2F4F4F"/>
<rect x="652" y="181" width="1" height="9" fill="#000000"/>
<rect x="656" y="154" width="1" height="35" fill="#2F4F4F"/>
<rect x="655" y="155" width="3" height="34" fill="#2F4F4F"/>
<rect x="656" y="156" width="1" height="32" fill="#FFFFFF"/>
<rect x="660" y="101" width="1" height="65" fill="#2F4F4F"/>
<rect x="659" y="111" width="3" height="45" fill="#2F4F4F"/>
<rect x="660" y="112" width="1" height="43" fill="#FFFFFF"/>
<rect x="664" y="95" width="1" height="23" fill="#2F4F4F"/>
<rect x="663" y="103" width="3" height="10" fill="#2F4F4F"/>
<rect x="664" y="104" width="1" height="8" fill="#FFFFFF"/>
<rect x="668" y="88" width="1" height="19" fill="#2F4F4F"/>
<rect x="667" y="95" width="3" height="10" fill="#2F4F4F"/>
<rect x="668" y="96" width="1" height="8" fill="#FFFFFF"/>
<rect x="672" y="82" width="1" height="17" fill="#2F4F4F"/>
<rect x="671" y="85" width="3" height="8" fill="#2F4F4F"/>
<rect x="672" y="86" width="1" height="6" fill="#FFFFFF"/>
<rect x="676" y="80" width="1" height="24" fill="#2F4F4F"/>
<rect x="675" y="85" width="3" height="16" fill="#2F4F4F"/>
<rect x="676" y="85" width="1" height="16" fill="#000000"/>
<rect x="680" y="72" width="1" height="30" fill="#2F4F4F"/>
<rect x="679" y="73" width="3" height="29" fill="#2F4F4F"/>
<rect x="680" y="74" width="1" height="27" fill="#FFFFFF"/>
<rect x="684" y="45" width="1" height="34" fill="#2F4F4F"/>
<rect x="683" y="58" width="3" height="18" fill="#2F4F4F"/>
<rect x="684" y="59" width="1" height="16" fill="#FFFFFF"/>
<rect x="688" y="22" width="1" height="39" fill="#2F4F4F"/>
<rect x="687" y="36" width="3" height="23" fill="#2F4F4F"/>
<rect x="688" y="37" width="1" height="21" fill="#FFFFFF"/>
<rect x="692" y="27" width="1" height="43" fill="#2F4F4F"/>
<rect x="691" y="41" width="3" height="29" fill="#2F4F4F"/>
<rect x="692" y="41" width="1" height="29" fill="#000000"/>
<rect x="696" y="52" width="1" height="58" fill="#2F4F4F"/>
<rect x="695" y="66" width="3" height="31" fill="#2F4F4F"/>
<rect x="696" y="66" width="1" height="31" fill="#000000"/>
<rect x="700" y="63" width="1" height="38" fill="#2F4F4F"/>
<rect x="699" y="66" width="3" height="31" fill="#2F4F4F"/>
<rect x="700" y="67" width="1" height="29" fill="#FFFFFF"/>
<rect x="704" y="63" width="1" height="39" fill="#2F4F4F"/>
<rect x="703" y="66" width="3" height="27" fill="#2F4F4F"/>
<rect x="704" y="66" width="1" height="27" fill="#000000"/>
<rect x="708" y="72" width="1" height="34" fill="#2F4F4F"/>
<rect x="707" y="75" width="3" height="19" fill="#2F4F4F"/>
<rect x="708" y="76" width="1" height="17" fill="#FFFFFF"/>
<rect x="712" y="72" width="1" height="23" fill="#2F4F4F"/>
<rect x="711" y="72" width="3" height="15" fill="#2F4F4F"/>
<rect x="712" y="72" width="1" height="15" fill="#000000"/>
<rect x="716" y="56" width="1" height="35" fill="#2F4F4F"/>
<rect x="715" y="63" width="3" height="24" fill="#2F4F4F"/>
<rect x="716" y="64" width="1" height="22" fill="#FFFFFF"/>
<rect x="720" y="42" width="1" height="25" fill="#2F4F4F"/>
<rect x="719" y="54" width="3" height="10" fill="#2F4F4F"/>
<rect x="720" y="55" width="1" height="8" fill="#FFFFFF"/>
<rect x="724" y="52" width="1" height="40" fill="#2F4F4F"/>
<rect x="723" y="55" width="3" height="22" fill="#2F4F4F"/>
<rect x="724" y="55" width="1" height="22" fill="#000000"/>
<rect x="728" y="72" width="1" height="24" fill="#2F4F4F"/>
<rect x="727" y="77" width="3" height="14" fill="#2F4F4F"/>
<rect x="728" y="77" width="1" height="14" fill="#000000"/>
</g>
<g>
<rect x="0" y="528" width="2" height="32" fill="#ADFF2F"/>
<rect x="2" y="528" width="4" height="32" fill="#00FFFF"/>
<rect x="6" y="520" width="4" height="40" fill="#00FFFF"/>
<rect x="10" y="515" width="4" height="45" fill="#00FFFF"/>
<rect x="14" y="528" width="4" height="32" fill="#ADFF2F"/>
<rect x="18" y="533" width="4" height="27" fill="#ADFF2F"/>
<rect x="22" y="528" width="4" height="32" fill="#00FFFF"/>
<rect x="26" y="529" width="4" height="31" fill="#ADFF2F"/>
<rect x="30" y="528" width="4" height="32" fill="#00FFFF"/>
<rect x="34" y="528" width="4" height="32" fill="#ADFF2F"/>
<rect x="38" y="519" width="4" height="41" fill="#00FFFF"/>
<rect x="42" y="496" width="4" height="64" fill="#00FFFF"/>
<rect x="46" y="487" width="4" height="73" fill="#00FFFF"/>
<rect x="50" y="493" width="4" height="67" fill="#ADFF2F"/>
<rect x="54" y="488" width="4" height="72" fill="#00FFFF"/>
<rect x="58" y="523" width="4" height="37" fill="#ADFF2F"/>
<rect x="62" y="529" width="4" height="31" fill="#ADFF2F"/>
<rect x="66" y="530" width="4" height="30" fill="#ADFF2F"/>
<rect x="70" y="533" width="4" height="27" fill="#ADFF2F"/>
<rect x="74" y="532" width="4" height="28" fill="#00FFFF"/>
<rect x="78" y="532" width="4" height="28" fill="#00FFFF"/>
<rect x="82" y="525" width="4" height="35" fill="#00FFFF"/>
<rect x="86" y="520" width="4" height="40" fill="#00FFFF"/>
<rect x="90" y="509" width="4" height="51" fill="#00FFFF"/>
<rect x="94" y="524" width="4" height="36" fill="#ADFF2F"/>
<rect x="98" y="522" width="4" height="38" fill="#00FFFF"/>
<rect x="102" y="520" width="4" height="40" fill="#00FFFF"/>
<rect x="106" y="515" width="4" height="45" fill="#00FFFF"/>
<rect x="110" y="513" width="4" height="47" fill="#00FFFF"/>
<rect x="114" y="511" width="4" height="49" fill="#00FFFF"/>
<rect x="118" y="518" width="4" height="42" fill="#ADFF2F"/>
<rect x="122" y="514" width="4" height="46" fill="#00FFFF"/>
<rect x="126" y="511" width="4" height="49" fill="#00FFFF"/>
<rect x="130" y="517" width="4" height="43" fill="#ADFF2F"/>
<rect x="134" y="515" width="4" height="45" fill="#00FFFF"/>
<rect x="138" y="531" width="4" height="29" fill="#ADFF2F"/>
<rect x="142" y="528" width="4" height="32" fill="#00FFFF"/>
<rect x="146" y="529" width="4" height="31" fill="#ADFF2F"/>
<rect x="150" y="529" width="4" height="31" fill="#ADFF2F"/>
<rect x="154" y="518" width="4" height="42" fill="#00FFFF"/>
<rect x="158" y="521" width="4" height="39" fill="#ADFF2F"/>
<rect x="162" y="513" width="4" height="47" fill="#00FFFF"/>
<rect x="166" y="505" width="4" height="55" fill="#00FFFF"/>
<rect x="170" y="510" width="4" height="50" fill="#ADFF2F"/>
<rect x="174" y="499" width="4" height="61" fill="#00FFFF"/>
<rect x="178" y="523" width="4" height="37" fill="#ADFF2F"/>
<rect x="182" y="516" width="4" height="44" fill="#00FFFF"/>
<rect x="186" y="523" width="4" height="37" fill="#ADFF2F"/>
<rect x="190" y="521" width="4" height="39" fill="#00FFFF"/>
<rect x="194" y="517" width="4" height="43" fill="#00FFFF"/>
<rect x="198" y="530" width="4" height="30" fill="#ADFF2F"/>
<rect x="202" y="526" width="4" height="34" fill="#00FFFF"/>
<rect x="206" y="524" width="4" height="36" fill="#00FFFF"/>
<rect x="210" y="529" width="4" height="31" fill="#ADFF2F"/>
<rect x="214" y="523" width="4" height="37" fill="#00FFFF"/>
<rect x="218" y="534" width="4" height="26" fill="#ADFF2F"/>
<rect x="222" y="528" width="4" height="32" fill="#00FFFF"/>
<rect x="226" y="522" width="4" height="38" fill="#00FFFF"/>
<rect x="230" y="527" width="4" height="33" fill="#ADFF2F"/>
<rect x="234" y="523" width="4" height="37" fill="#00FFFF"/>
<rect x="238" y="529" width="4" height="31" fill="#ADFF2F"/>
<rect x="242" y="524" width="4" height="36" fill="#00FFFF"/>
<rect x="246" y="515" width="4" height="45" fill="#00FFFF"/>
<rect x="250" y="521" width="4" height="39" fill="#ADFF2F"/>
<rect x="254" y="523" width="4" height="37" fill="#ADFF2F"/>
<rect x="258" y="536" width="4" height="24" fill="#ADFF2F"/>
<rect x="262" y="521" width="4" height="39" fill="#00FFFF"/>
<rect x="266" y="518" width="4" height="42" fill="#00FFFF"/>
<rect x="270" y="515" width="4" height="45" fill="#00FFFF"/>
<rect x="274" y="515" width="4" height="45" fill="#ADFF2F"/>
<rect x="278" y="516" width="4" height="44" fill="#ADFF2F"/>
<rect x="282" y="501" width="4" height="59" fill="#00FFFF"/>
<rect x="286" y="506" width="4" height="54" fill="#ADFF2F"/>
<rect x="290" y="505" width="4" height="55" fill="#00FFFF"/>
<rect x="294" y="509" width="4" height="51" fill="#ADFF2F"/>
<rect x="298" y="515" width="4" height="45" fill="#ADFF2F"/>
<rect x="302" y="506" width="4" height="54" fill="#00FFFF"/>
<rect x="306" y="503" width="4" height="57" fill="#00FFFF"/>
<rect x="310" y="510" width="4" height="50" fill="#ADFF2F"/>
<rect x="314" y="505" width="4" height="55" fill="#00FFFF"/>
<rect x="318" y="517" width="4" height="43" fill="#ADFF2F"/>
<rect x="322" y="508" width="4" height="52" fill="#00FFFF"/>
<rect x="326" y="509" width="4" height="51" fill="#ADFF2F"/>
<rect x="330" y="507" width="4" height="53" fill="#00FFFF"/>
<rect x="334" y="515" width="4" height="45" fill="#ADFF2F"/>
<rect x="338" y="515" width="4" height="45" fill="#00FFFF"/>
<rect x="342" y="510" width="4" height="50" fill="#00FFFF"/>
<rect x="346" y="510" width="4" height="50" fill="#00FFFF"/>
<rect x="350" y="496" width="4" height="64" fill="#00FFFF"/>
<rect x="354" y="509" width="4" height="51" fill="#ADFF2F"/>
<rect x="358" y="514" width="4" height="46" fill="#ADFF2F"/>
<rect x="362" y="506" width="4" height="54" fill="#00FFFF"/>
<rect x="366" y="497" width="4" height="63" fill="#00FFFF"/>
<rect x="370" y="500" width="4" height="60" fill="#ADFF2F"/>
<rect x="374" y="499" width="4" height="61" fill="#00FFFF"/>
<rect x="378" y="515" width="4" height="45" fill="#ADFF2F"/>
<rect x="382" y="509" width="4" height="51" fill="#00FFFF"/>
<rect x="386" y="479" width="4" height="81" fill="#00FFFF"/>
<rect x="390" y="486" width="4" height="74" fill="#ADFF2F"/>
<rect x="394" y="510" width="4" height="50" fill="#ADFF2F"/>
<rect x="398" y="519" width="4" height="41" fill="#ADFF2F"/>
<rect x="402" y="512" width="4" height="48" fill="#00FFFF"/>
<rect x="406" y="511" width="4" height="49" fill="#00FFFF"/>
<rect x="410" y="515" width="4" height="45" fill="#ADFF2F"/>
<rect x="414" y="523" width="4" height="37" fill="#ADFF2F"/>
<rect x="418" y="525" width="4" height="35" fill="#ADFF2F"/>
<rect x="422" y="513" width="4" height="47" fill="#00FFFF"/>
<rect x="426" y="506" width="4" height="54" fill="#00FFFF"/>
<rect x="430" y="503" width="4" height="57" fill="#00FFFF"/>
<rect x="434" y="490" width="4" height="70" fill="#00FFFF"/>
<rect x="438" y="498" width="4" height="62" fill="#ADFF2F"/>
<rect x="442" y="501" width="4" height="59" fill="#ADFF2F"/>
<rect x="446" y="493" width="4" height="67" fill="#00FFFF"/>
<rect x="450" y="489" width="4" height="71" fill="#00FFFF"/>
<rect x="454" y="489" width="4" height="71" fill="#00FFFF"/>
<rect x="458" y="508" width="4" height="52" fill="#ADFF2F"/>
<rect x="462" y="513" width="4" height="47" fill="#ADFF2F"/>
<rect x="466" y="511" width="4" height="49" fill="#00FFFF"/>
<rect x="470" y="515" width="4" height="45" fill="#ADFF2F"/>
<rect x="474" y="503" width="4" height="57" fill="#00FFFF"/>
<rect x="478" y="514" width="4" height="46" fill="#ADFF2F"/>
<rect x="482" y="518" width="4" height="42" fill="#ADFF2F"/>
<rect x="486" y="508" width="4" height="52" fill="#00FFFF"/>
<rect x="490" y="507" width="4" height="53" fill="#00FFFF"/>
<rect x="494" y="502" width="4" height="58" fill="#00FFFF"/>
<rect x="498" y="518" width="4" height="42" fill="#ADFF2F"/>
<rect x="502" y="504" width="4" height="56" fill="#00FFFF"/>
<rect x="506" y="515" width="4" height="45" fill="#ADFF2F"/>
<rect x="510" y="514" width="4" height="46" fill="#00FFFF"/>
<rect x="514" y="500" width="4" height="60" fill="#00FFFF"/>
<rect x="518" y="496" width="4" height="64" fill="#00FFFF"/>
<rect x="522" y="506" width="4" height="54" fill="#ADFF2F"/>
<rect x="526" y="506" width="4" height="54" fill="#ADFF2F"/>
<rect x="530" y="500" width="4" height="60" fill="#00FFFF"/>
<rect x="534" y="499" width="4" height="61" fill="#00FFFF"/>
<rect x="538" y="510" width="4" height="50" fill="#ADFF2F"/>
<rect x="542" y="491" width="4" height="69" fill="#00FFFF"/>
<rect x="546" y="497" width="4" height="63" fill="#ADFF2F"/>
<rect x="550" y="474" width="4" height="86" fill="#00FFFF"/>
<rect x="554" y="495" width="4" height="65" fill="#ADFF2F"/>
<rect x="558" y="478" width="4" height="82" fill="#00FFFF"/>
<rect x="562" y="482" width="4" height="78" fill="#ADFF2F"/>
<rect x="566" y="484" width="4" height="76" fill="#ADFF2F"/>
<rect x="570" y="463" width="4" height="97" fill="#00FFFF"/>
<rect x="574" y="495" width="4" height="65" fill="#ADFF2F"/>
<rect x="578" y="511" width="4" height="49" fill="#ADFF2F"/>
<rect x="582" y="510" width="4" height="50" fill="#00FFFF"/>
<rect x="586" y="519" width="4" height="41" fill="#ADFF2F"/>
<rect x="590" y="549" width="4" height="11" fill="#ADFF2F"/>
<rect x="594" y="513" width="4" height="47" fill="#00FFFF"/>
<rect x="598" y="511" width="4" height="49" fill="#00FFFF"/>
<rect x="602" y="521" width="4" height="39" fill="#ADFF2F"/>
<rect x="606" y="537" width="4" height="23" fill="#ADFF2F"/>
<rect x="610" y="488" width="4" height="72" fill="#00FFFF"/>
<rect x="614" y="486" width="4" height="74" fill="#00FFFF"/>
<rect x="618" y="483" width="4" height="77" fill="#00FFFF"/>
<rect x="622" y="492" width="4" height="68" fill="#ADFF2F"/>
<rect x="626" y="493" width="4" height="67" fill="#ADFF2F"/>
<rect x="630" y="491" width="4" height="69" fill="#00FFFF"/>
<rect x="634" y="477" width="4" height="83" fill="#00FFFF"/>
<rect x="638" y="471" width="4" height="89" fill="#00FFFF"/>
<rect x="642" y="483" width="4" height="77" fill="#ADFF2F"/>
<rect x="646" y="483" width="4" height="77" fill="#00FFFF"/>
<rect x="650" y="524" width="4" height="36" fill="#ADFF2F"/>
<rect x="654" y="500" width="4" height="60" fill="#00FFFF"/>
<rect x="658" y="496" width="4" height="64" fill="#00FFFF"/>
<rect x="662" y="495" width="4" height="65" fill="#00FFFF"/>
<rect x="666" y="494" width="4" height="66" fill="#00FFFF"/>
<rect x="670" y="504" width="4" height="56" fill="#ADFF2F"/>
<rect x="674" y="510" width="4" height="50" fill="#ADFF2F"/>
<rect x="678" y="504" width="4" height="56" fill="#00FFFF"/>
<rect x="682" y="515" width="4" height="45" fill="#ADFF2F"/>
<rect x="686" y="500" width="4" height="60" fill="#00FFFF"/>
<rect x="690" y="490" width="4" height="70" fill="#00FFFF"/>
<rect x="694" y="492" width="4" height="68" fill="#ADFF2F"/>
<rect x="698" y="493" width="4" height="67" fill="#ADFF2F"/>
<rect x="702" y="490" width="4" height="70" fill="#00FFFF"/>
<rect x="706" y="496" width="4" height="64" fill="#ADFF2F"/>
<rect x="710" y="503" width="4" height="57" fill="#ADFF2F"/>
<rect x="714" y="496" width="4" height="64" fill="#00FFFF"/>
<rect x="718" y="498" width="4" height="62" fill="#ADFF2F"/>
<rect x="722" y="493" width="4" height="67" fill="#00FFFF"/>
<rect x="726" y="498" width="4" height="62" fill="#ADFF2F"/>
</g>
<rect x="0" y="455" width="916" height="1" fill="#000"/>
<rect x="0" y="457" width="916" height="1" fill="#000"/>
<rect x="0" y="561" width="916" height="1" fill="#000"/>
<rect x="915" y="0" width="1" height="562" fill="#000"/>
<rect x="916" y="23" width="2" height="1" fill="#000"/>
<text x="921" y="26" font-family="Liberation Sans, Arial, sans-serif" font-size="9.3" fill="#000" stroke="#000" stroke-width="0.25" shape-rendering="auto" textLength="33.5" lengthAdjust="spacingAndGlyphs">1.27900</text>
<rect x="916" y="56" width="2" height="1" fill="#000"/>
<text x="921" y="59" font-family="Liberation Sans, Arial, sans-serif" font-size="9.3" fill="#000" stroke="#000" stroke-width="0.25" shape-rendering="auto" textLength="33.5" lengthAdjust="spacingAndGlyphs">1.26200</text>
<rect x="916" y="89" width="2" height="1" fill="#000"/>
<rect x="916" y="122" width="2" height="1" fill="#000"/>
<text x="921" y="125" font-family="Liberation Sans, Arial, sans-serif" font-size="9.3" fill="#000" stroke="#000" stroke-width="0.25" shape-rendering="auto" textLength="33.5" lengthAdjust="spacingAndGlyphs">1.22800</text>
<rect x="916" y="155" width="2" height="1" fill="#000"/>
<text x="921" y="158" font-family="Liberation Sans, Arial, sans-serif" font-size="9.3" fill="#000" stroke="#000" stroke-width="0.25" shape-rendering="auto" textLength="33.5" lengthAdjust="spacingAndGlyphs">1.21100</text>
<rect x="916" y="188" width="2" height="1" fill="#000"/>
<text x="921" y="191" font-family="Liberation Sans, Arial, sans-serif" font-size="9.3" fill="#000" stroke="#000" stroke-width="0.25" shape-rendering="auto" textLength="33.5" lengthAdjust="spacingAndGlyphs">1.19400</text>
<rect x="916" y="221" width="2" height="1" fill="#000"/>
<text x="921" y="224" font-family="Liberation Sans, Arial, sans-serif" font-size="9.3" fill="#000" stroke="#000" stroke-width="0.25" shape-rendering="auto" textLength="33.5" lengthAdjust="spacingAndGlyphs">1.17700</text>
<rect x="916" y="254" width="2" height="1" fill="#000"/>
<text x="921" y="257" font-family="Liberation Sans, Arial, sans-serif" font-size="9.3" fill="#000" stroke="#000" stroke-width="0.25" shape-rendering="auto" textLength="33.5" lengthAdjust="spacingAndGlyphs">1.16000</text>
<rect x="916" y="287" width="2" height="1" fill="#000"/>
<text x="921" y="290" font-family="Liberation Sans, Arial, sans-serif" font-size="9.3" fill="#000" stroke="#000" stroke-width="0.25" shape-rendering="auto" textLength="33.5" lengthAdjust="spacingAndGlyphs">1.14300</text>
<rect x="916" y="320" width="2" height="1" fill="#000"/>
<text x="921" y="323" font-family="Liberation Sans, Arial, sans-serif" font-size="9.3" fill="#000" stroke="#000" stroke-width="0.25" shape-rendering="auto" textLength="33.5" lengthAdjust="spacingAndGlyphs">1.12600</text>
<rect x="916" y="353" width="2" height="1" fill="#000"/>
<text x="921" y="356" font-family="Liberation Sans, Arial, sans-serif" font-size="9.3" fill="#000" stroke="#000" stroke-width="0.25" shape-rendering="auto" textLength="33.5" lengthAdjust="spacingAndGlyphs">1.10900</text>
<rect x="916" y="386" width="2" height="1" fill="#000"/>
<text x="921" y="389" font-family="Liberation Sans, Arial, sans-serif" font-size="9.3" fill="#000" stroke="#000" stroke-width="0.25" shape-rendering="auto" textLength="33.5" lengthAdjust="spacingAndGlyphs">1.09200</text>
<rect x="916" y="419" width="2" height="1" fill="#000"/>
<text x="921" y="422" font-family="Liberation Sans, Arial, sans-serif" font-size="9.3" fill="#000" stroke="#000" stroke-width="0.25" shape-rendering="auto" textLength="33.5" lengthAdjust="spacingAndGlyphs">1.07500</text>
<rect x="916" y="452" width="2" height="1" fill="#000"/>
<text x="921" y="455" font-family="Liberation Sans, Arial, sans-serif" font-size="9.3" fill="#000" stroke="#000" stroke-width="0.25" shape-rendering="auto" textLength="33.5" lengthAdjust="spacingAndGlyphs">1.05800</text>
<rect x="917" y="84" width="38" height="11" fill="#000"/>
<rect x="916" y="89" width="1" height="1" fill="#000"/>
<rect x="915" y="90" width="1" height="1" fill="#D0D0D0"/>
<text x="921" y="93" font-family="Liberation Sans, Arial, sans-serif" font-size="9.3" fill="#FFF" stroke="#FFF" stroke-width="0.2" shape-rendering="auto" textLength="33.5" lengthAdjust="spacingAndGlyphs">1.24465</text>
<rect x="916" y="459" width="2" height="1" fill="#000"/>
<text x="919" y="468" font-family="Liberation Sans, Arial, sans-serif" font-size="9.3" fill="#000" stroke="#000" stroke-width="0.25" shape-rendering="auto" textLength="25" lengthAdjust="spacingAndGlyphs">80992</text>
<text x="919" y="558" font-family="Liberation Sans, Arial, sans-serif" font-size="9.3" fill="#000" stroke="#000" stroke-width="0.25" shape-rendering="auto">0</text>
<rect x="0" y="562" width="1" height="3" fill="#000"/>
<text x="0" y="574" font-family="Liberation Sans, Arial, sans-serif" font-size="9.3" fill="#000" stroke="#000" stroke-width="0.25" shape-rendering="auto" textLength="43.0" lengthAdjust="spacingAndGlyphs">2 Jun 2014</text>
<rect x="64" y="562" width="1" height="3" fill="#000"/>
<text x="64" y="574" font-family="Liberation Sans, Arial, sans-serif" font-size="9.3" fill="#000" stroke="#000" stroke-width="0.25" shape-rendering="auto" textLength="48.0" lengthAdjust="spacingAndGlyphs">24 Jun 2014</text>
<rect x="128" y="562" width="1" height="3" fill="#000"/>
<text x="128" y="574" font-family="Liberation Sans, Arial, sans-serif" font-size="9.3" fill="#000" stroke="#000" stroke-width="0.25" shape-rendering="auto" textLength="45.2" lengthAdjust="spacingAndGlyphs">16 Jul 2014</text>
<rect x="192" y="562" width="1" height="3" fill="#000"/>
<text x="192" y="574" font-family="Liberation Sans, Arial, sans-serif" font-size="9.3" fill="#000" stroke="#000" stroke-width="0.25" shape-rendering="auto" textLength="46.0" lengthAdjust="spacingAndGlyphs">7 Aug 2014</text>
<rect x="256" y="562" width="1" height="3" fill="#000"/>
<text x="256" y="574" font-family="Liberation Sans, Arial, sans-serif" font-size="9.3" fill="#000" stroke="#000" stroke-width="0.25" shape-rendering="auto" textLength="52.0" lengthAdjust="spacingAndGlyphs">29 Aug 2014</text>
<rect x="320" y="562" width="1" height="3" fill="#000"/>
<text x="320" y="574" font-family="Liberation Sans, Arial, sans-serif" font-size="9.3" fill="#000" stroke="#000" stroke-width="0.25" shape-rendering="auto" textLength="50.8" lengthAdjust="spacingAndGlyphs">22 Sep 2014</text>
<rect x="384" y="562" width="1" height="3" fill="#000"/>
<text x="384" y="574" font-family="Liberation Sans, Arial, sans-serif" font-size="9.3" fill="#000" stroke="#000" stroke-width="0.25" shape-rendering="auto" textLength="49.7" lengthAdjust="spacingAndGlyphs">14 Oct 2014</text>
<rect x="448" y="562" width="1" height="3" fill="#000"/>
<text x="448" y="574" font-family="Liberation Sans, Arial, sans-serif" font-size="9.3" fill="#000" stroke="#000" stroke-width="0.25" shape-rendering="auto" textLength="48.9" lengthAdjust="spacingAndGlyphs">5 Nov 2014</text>
<rect x="512" y="562" width="1" height="3" fill="#000"/>
<text x="512" y="574" font-family="Liberation Sans, Arial, sans-serif" font-size="9.3" fill="#000" stroke="#000" stroke-width="0.25" shape-rendering="auto" textLength="53.3" lengthAdjust="spacingAndGlyphs">27 Nov 2014</text>
<rect x="576" y="562" width="1" height="3" fill="#000"/>
<text x="576" y="574" font-family="Liberation Sans, Arial, sans-serif" font-size="9.3" fill="#000" stroke="#000" stroke-width="0.25" shape-rendering="auto" textLength="51.0" lengthAdjust="spacingAndGlyphs">19 Dec 2014</text>
<rect x="640" y="562" width="1" height="3" fill="#000"/>
<text x="640" y="574" font-family="Liberation Sans, Arial, sans-serif" font-size="9.3" fill="#000" stroke="#000" stroke-width="0.25" shape-rendering="auto" textLength="49.2" lengthAdjust="spacingAndGlyphs">14 Jan 2015</text>
<rect x="704" y="562" width="1" height="3" fill="#000"/>
<text x="704" y="574" font-family="Liberation Sans, Arial, sans-serif" font-size="9.3" fill="#000" stroke="#000" stroke-width="0.25" shape-rendering="auto" textLength="45.8" lengthAdjust="spacingAndGlyphs">5 Feb 2015</text>
<g shape-rendering="auto">
<polygon points="762.4,13.3 767.6,28.4 763.2,28.2 759,57.4 754.6,56.9 758,27.4 753.3,26.8" fill="#808080"/>
<polygon points="742.6,46 747.5,58.5 743,57.5 738.5,83 734.5,82.5 737.8,57 733.6,56.9" fill="#808080"/>
<polygon points="725.9,0 735,0 730.4,4.9" fill="#B4B4B4"/>
</g>
<g fill="none">
<line x1="608" y1="36.5" x2="791" y2="36.5" stroke="#0000FF" stroke-dasharray="9 3 3 3 3 3"/>
<line x1="790" y1="36.5" x2="799" y2="36.5" stroke="#2F4F4F"/>
<rect x="799.5" y="27.5" width="60" height="18" stroke="#2F4F4F" fill="#FFFFFF"/>
<line x1="608" y1="100.5" x2="791" y2="100.5" stroke="#0000FF" stroke-dasharray="9 3 3 3 3 3"/>
<line x1="790" y1="100.5" x2="799" y2="100.5" stroke="#2F4F4F"/>
<rect x="799.5" y="91.5" width="60" height="18" stroke="#2F4F4F" fill="#FFFFFF"/>
<line x1="608" y1="178.5" x2="791" y2="178.5" stroke="#0000FF" stroke-dasharray="9 3 3 3 3 3"/>
<line x1="790" y1="178.5" x2="799" y2="178.5" stroke="#2F4F4F"/>
<rect x="799.5" y="169.5" width="60" height="18" stroke="#2F4F4F" fill="#FFFFFF"/>
<line x1="520" y1="240.5" x2="791" y2="240.5" stroke="#0000FF" stroke-dasharray="9 3 3 3 3 3"/>
<line x1="790" y1="240.5" x2="799" y2="240.5" stroke="#2F4F4F"/>
<rect x="799.5" y="231.5" width="60" height="18" stroke="#2F4F4F" fill="#FFFFFF"/>
<line x1="440" y1="287.5" x2="791" y2="287.5" stroke="#0000FF" stroke-dasharray="9 3 3 3 3 3"/>
<line x1="790" y1="287.5" x2="799" y2="287.5" stroke="#2F4F4F"/>
<rect x="799.5" y="278.5" width="60" height="18" stroke="#2F4F4F" fill="#FFFFFF"/>
<line x1="260" y1="353.5" x2="791" y2="353.5" stroke="#0000FF" stroke-dasharray="9 3 3 3 3 3"/>
<line x1="790" y1="353.5" x2="799" y2="353.5" stroke="#2F4F4F"/>
<rect x="799.5" y="344.5" width="60" height="18" stroke="#2F4F4F" fill="#FFFFFF"/>
<line x1="176" y1="398.5" x2="791" y2="398.5" stroke="#0000FF" stroke-dasharray="9 3 3 3 3 3"/>
<line x1="790" y1="398.5" x2="799" y2="398.5" stroke="#2F4F4F"/>
<rect x="799.5" y="389.5" width="60" height="18" stroke="#2F4F4F" fill="#FFFFFF"/>
<line x1="0" y1="443.5" x2="791" y2="443.5" stroke="#0000FF" stroke-dasharray="9 3 3 3 3 3"/>
<line x1="790" y1="443.5" x2="799" y2="443.5" stroke="#2F4F4F"/>
<rect x="799.5" y="434.5" width="60" height="18" stroke="#2F4F4F" fill="#FFFFFF"/>
</g>
<text x="801" y="43" font-family="Liberation Sans, Arial, sans-serif" font-size="16.5" fill="#2F4F4F" stroke="#2F4F4F" stroke-width="0.2" shape-rendering="auto" textLength="57.5" lengthAdjust="spacingAndGlyphs">1.27226</text>
<text x="801" y="107" font-family="Liberation Sans, Arial, sans-serif" font-size="16.5" fill="#2F4F4F" stroke="#2F4F4F" stroke-width="0.2" shape-rendering="auto" textLength="57.5" lengthAdjust="spacingAndGlyphs">1.23931</text>
<text x="801" y="185" font-family="Liberation Sans, Arial, sans-serif" font-size="16.5" fill="#2F4F4F" stroke="#2F4F4F" stroke-width="0.2" shape-rendering="auto" textLength="57.5" lengthAdjust="spacingAndGlyphs">1.19914</text>
<text x="801" y="247" font-family="Liberation Sans, Arial, sans-serif" font-size="16.5" fill="#2F4F4F" stroke="#2F4F4F" stroke-width="0.2" shape-rendering="auto" textLength="57.5" lengthAdjust="spacingAndGlyphs">1.16721</text>
<text x="801" y="294" font-family="Liberation Sans, Arial, sans-serif" font-size="16.5" fill="#2F4F4F" stroke="#2F4F4F" stroke-width="0.2" shape-rendering="auto" textLength="57.5" lengthAdjust="spacingAndGlyphs">1.14301</text>
<text x="801" y="360" font-family="Liberation Sans, Arial, sans-serif" font-size="16.5" fill="#2F4F4F" stroke="#2F4F4F" stroke-width="0.2" shape-rendering="auto" textLength="57.5" lengthAdjust="spacingAndGlyphs">1.10902</text>
<text x="801" y="405" font-family="Liberation Sans, Arial, sans-serif" font-size="16.5" fill="#2F4F4F" stroke="#2F4F4F" stroke-width="0.2" shape-rendering="auto" textLength="57.5" lengthAdjust="spacingAndGlyphs">1.08585</text>
<text x="801" y="450" font-family="Liberation Sans, Arial, sans-serif" font-size="16.5" fill="#2F4F4F" stroke="#2F4F4F" stroke-width="0.2" shape-rendering="auto" textLength="57.5" lengthAdjust="spacingAndGlyphs">1.06268</text>
<rect x="606.5" y="92.5" width="185" height="15" fill="none" stroke="#808080"/>
<path d="M145 387h3v1h-3zM309 387h3v1h-3zM209 367h3v1h-3zM372 367h3v1h-3zM181 499h73v1h-73zM285 499h5v1h-5zM536 499h7v1h-7zM744 499h4v1h-4zM596 466h7v1h-7zM624 466h2v1h-2zM382 479h10v1h-10zM671 479h3v1h-3zM144 498h37v1h-37zM290 498h5v1h-5zM528 498h8v1h-8zM741 498h3v1h-3zM266 349h3v1h-3zM429 349h4v1h-4zM266 503h5v1h-5zM566 503h8v1h-8zM759 503h4v1h-4zM665 94h2v1h-2zM657 90h2v1h-2zM567 462h7v1h-7zM393 309h4v1h-4zM556 309h4v1h-4zM210 418h3v1h-3zM336 327h3v1h-3zM499 327h3v1h-3zM506 327h2v1h-2zM254 500h37v1h-37zM543 500h8v1h-8zM748 500h4v1h-4zM451 291h3v1h-3zM659 91h2v1h-2zM514 271h3v1h-3zM401 475h5v1h-5zM656 475h3v1h-3zM323 331h3v1h-3zM487 331h3v1h-3zM367 482h5v1h-5zM407 482h8v1h-8zM682 482h3v1h-3zM511 272h3v1h-3zM329 490h5v1h-5zM468 490h7v1h-7zM711 490h4v1h-4zM736 130h2v1h-2zM527 267h3v1h-3zM584 267h2v1h-2zM396 476h5v1h-5zM659 476h4v1h-4zM264 401h3v1h-3zM256 352h4v1h-4zM420 352h3v1h-3zM647 473h8v1h-8zM137 441h3v1h-3zM377 314h4v1h-4zM541 314h3v1h-3zM508 273h3v1h-3zM515 273h2v1h-2zM194 423h4v1h-4zM517 270h4v1h-4zM580 270h2v1h-2zM158 383h3v1h-3zM321 383h4v1h-4zM603 253h2v1h-2zM215 365h3v1h-3zM379 365h3v1h-3zM348 486h5v1h-5zM438 486h7v1h-7zM696 486h4v1h-4zM581 505h8v1h-8zM252 405h3v1h-3zM492 278h3v1h-3zM363 483h4v1h-4zM415 483h8v1h-8zM685 483h4v1h-4zM339 326h3v1h-3zM502 326h4v1h-4zM377 480h5v1h-5zM392 480h8v1h-8zM674 480h4v1h-4zM441 294h3v1h-3zM549 294h2v1h-2zM778 82h2v1h-2zM300 496h5v1h-5zM513 496h8v1h-8zM733 496h4v1h-4zM185 426h3v1h-3zM326 330h4v1h-4zM490 330h3v1h-3zM502 330h2v1h-2zM460 288h3v1h-3zM269 348h3v1h-3zM433 348h3v1h-3zM136 390h3v1h-3zM299 390h3v1h-3zM242 408h3v1h-3zM142 388h3v1h-3zM306 388h3v1h-3zM780 83h2v1h-2zM295 497h5v1h-5zM521 497h7v1h-7zM737 497h4v1h-4zM764 75h2v1h-2zM355 321h3v1h-3zM518 321h3v1h-3zM309 494h5v1h-5zM498 494h8v1h-8zM726 494h3v1h-3zM372 481h5v1h-5zM400 481h7v1h-7zM678 481h4v1h-4zM756 71h2v1h-2zM505 274h3v1h-3zM575 274h2v1h-2zM314 334h3v1h-3zM477 334h3v1h-3zM732 128h2v1h-2zM438 295h3v1h-3zM486 295h2v1h-2zM724 124h2v1h-2zM716 120h2v1h-2zM120 395h3v1h-3zM283 395h3v1h-3zM589 465h7v1h-7zM533 265h4v1h-4zM710 117h2v1h-2zM502 275h3v1h-3zM255 404h3v1h-3zM381 313h3v1h-3zM544 313h3v1h-3zM190 373h3v1h-3zM353 373h3v1h-3zM428 298h4v1h-4zM482 298h2v1h-2zM304 337h3v1h-3zM467 337h4v1h-4zM368 317h3v1h-3zM531 317h3v1h-3zM311 335h3v1h-3zM474 335h3v1h-3zM177 377h3v1h-3zM340 377h4v1h-4zM425 299h3v1h-3zM409 304h3v1h-3zM536 304h2v1h-2zM681 102h2v1h-2zM298 339h3v1h-3zM461 339h3v1h-3zM108 399h2v1h-2zM271 399h3v1h-3zM732 59h2v1h-2zM618 469h7v1h-7zM634 469h3v1h-3zM482 281h4v1h-4zM585 220h2v1h-2zM288 342h3v1h-3zM452 342h3v1h-3zM139 389h3v1h-3zM302 389h4v1h-4zM653 88h2v1h-2zM233 411h3v1h-3zM358 320h4v1h-4zM515 320h2v1h-2zM521 320h4v1h-4zM132 391h4v1h-4zM296 391h3v1h-3zM537 264h3v1h-3zM588 264h2v1h-2zM556 242h2v1h-2zM346 324h3v1h-3zM509 324h3v1h-3zM314 493h5v1h-5zM491 493h7v1h-7zM722 493h4v1h-4zM155 384h3v1h-3zM318 384h3v1h-3zM467 286h3v1h-3zM317 333h3v1h-3zM480 333h3v1h-3zM123 394h3v1h-3zM286 394h4v1h-4zM247 355h3v1h-3zM410 355h4v1h-4zM159 434h4v1h-4zM711 48h2v1h-2zM110 398h3v1h-3zM274 398h3v1h-3zM377 478h8v1h-8zM387 478h5v1h-5zM667 478h4v1h-4zM217 416h3v1h-3zM524 268h3v1h-3zM625 470h8v1h-8zM637 470h4v1h-4zM263 504h3v1h-3zM574 504h7v1h-7zM763 504h2v1h-2zM663 93h2v1h-2zM180 376h3v1h-3zM344 376h3v1h-3zM237 358h4v1h-4zM401 358h3v1h-3zM301 338h3v1h-3zM464 338h3v1h-3zM167 380h4v1h-4zM331 380h3v1h-3zM457 289h3v1h-3zM494 289h2v1h-2zM559 461h8v1h-8zM231 360h3v1h-3zM394 360h4v1h-4zM334 489h4v1h-4zM460 489h8v1h-8zM707 489h4v1h-4zM611 468h7v1h-7zM630 468h4v1h-4zM708 116h2v1h-2zM221 363h4v1h-4zM385 363h3v1h-3zM473 284h3v1h-3zM562 284h2v1h-2zM279 345h3v1h-3zM442 345h3v1h-3zM754 139h2v1h-2zM151 385h4v1h-4zM315 385h3v1h-3zM406 305h3v1h-3zM349 323h3v1h-3zM512 323h3v1h-3zM714 119h2v1h-2zM713 49h2v1h-2zM705 45h2v1h-2zM581 464h8v1h-8zM400 307h3v1h-3zM532 307h2v1h-2zM563 307h3v1h-3zM343 487h5v1h-5zM445 487h8v1h-8zM700 487h4v1h-4zM683 34h2v1h-2zM150 437h3v1h-3zM390 310h3v1h-3zM528 310h2v1h-2zM553 310h3v1h-3zM589 217h2v1h-2zM207 419h3v1h-3zM199 370h3v1h-3zM363 370h3v1h-3zM540 254h2v1h-2zM601 254h2v1h-2zM171 379h3v1h-3zM334 379h3v1h-3zM129 392h3v1h-3zM293 392h3v1h-3zM762 74h2v1h-2zM447 292h4v1h-4zM490 292h2v1h-2zM730 127h2v1h-2zM435 296h3v1h-3zM320 332h3v1h-3zM483 332h4v1h-4zM604 252h2v1h-2zM319 492h5v1h-5zM483 492h8v1h-8zM718 492h4v1h-4zM248 406h4v1h-4zM479 282h3v1h-3zM212 366h3v1h-3zM375 366h4v1h-4zM373 477h4v1h-4zM392 477h4v1h-4zM663 477h4v1h-4zM406 474h3v1h-3zM652 474h7v1h-7zM560 239h2v1h-2zM543 262h2v1h-2zM454 290h3v1h-3zM554 290h2v1h-2zM552 460h7v1h-7zM338 488h5v1h-5zM453 488h7v1h-7zM704 488h3v1h-3zM719 52h2v1h-2zM324 491h5v1h-5zM475 491h8v1h-8zM715 491h3v1h-3zM244 356h3v1h-3zM407 356h3v1h-3zM661 92h2v1h-2zM422 300h3v1h-3zM239 409h3v1h-3zM174 378h3v1h-3zM337 378h3v1h-3zM603 467h8v1h-8zM626 467h4v1h-4zM161 382h3v1h-3zM325 382h3v1h-3zM172 430h3v1h-3zM193 372h3v1h-3zM356 372h4v1h-4zM531 261h2v1h-2zM186 374h4v1h-4zM350 374h3v1h-3zM695 40h2v1h-2zM683 103h2v1h-2zM371 316h3v1h-3zM534 316h3v1h-3zM689 37h2v1h-2zM782 84h2v1h-2zM164 381h3v1h-3zM328 381h3v1h-3zM234 359h3v1h-3zM398 359h3v1h-3zM271 502h5v1h-5zM559 502h7v1h-7zM755 502h4v1h-4zM291 341h4v1h-4zM455 341h3v1h-3zM342 325h4v1h-4zM506 325h4v1h-4zM728 126h2v1h-2zM712 118h2v1h-2zM276 501h4v1h-4zM551 501h8v1h-8zM752 501h3v1h-3zM333 328h3v1h-3zM496 328h3v1h-3zM726 125h2v1h-2zM403 306h3v1h-3zM566 306h2v1h-2zM687 105h2v1h-2zM276 346h3v1h-3zM439 346h3v1h-3zM305 495h4v1h-4zM506 495h7v1h-7zM729 495h4v1h-4zM263 350h3v1h-3zM426 350h3v1h-3zM754 70h2v1h-2zM140 440h4v1h-4zM416 302h3v1h-3zM261 402h3v1h-3zM253 353h3v1h-3zM417 353h3v1h-3zM577 226h2v1h-2zM183 375h3v1h-3zM347 375h3v1h-3zM701 112h2v1h-2zM432 297h3v1h-3zM374 315h3v1h-3zM537 315h4v1h-4zM633 471h7v1h-7zM641 471h4v1h-4zM182 427h3v1h-3zM196 371h3v1h-3zM360 371h3v1h-3zM202 369h4v1h-4zM366 369h3v1h-3zM709 47h2v1h-2zM495 277h3v1h-3zM116 396h4v1h-4zM280 396h3v1h-3zM476 283h3v1h-3zM384 312h3v1h-3zM547 312h3v1h-3zM693 39h2v1h-2zM685 35h2v1h-2zM687 36h2v1h-2zM365 318h3v1h-3zM528 318h3v1h-3zM540 263h3v1h-3zM655 89h2v1h-2zM740 132h2v1h-2zM412 303h4v1h-4zM285 343h3v1h-3zM448 343h4v1h-4zM760 73h2v1h-2zM229 412h4v1h-4zM470 285h3v1h-3zM463 287h4v1h-4zM558 287h2v1h-2zM213 417h4v1h-4zM768 77h2v1h-2zM144 439h3v1h-3zM752 69h2v1h-2zM134 442h3v1h-3zM738 62h2v1h-2zM704 114h2v1h-2zM548 459h4v1h-4zM163 433h3v1h-3zM706 115h2v1h-2zM353 485h5v1h-5zM430 485h8v1h-8zM693 485h3v1h-3zM489 279h3v1h-3zM218 364h3v1h-3zM382 364h3v1h-3zM191 424h3v1h-3zM206 368h3v1h-3zM369 368h3v1h-3zM685 104h2v1h-2zM204 420h3v1h-3zM330 329h3v1h-3zM493 329h3v1h-3zM444 293h3v1h-3zM387 311h3v1h-3zM550 311h3v1h-3zM419 301h3v1h-3zM486 280h3v1h-3zM506 280h2v1h-2zM307 336h4v1h-4zM471 336h3v1h-3zM707 46h2v1h-2zM691 38h2v1h-2zM236 410h3v1h-3zM250 354h3v1h-3zM414 354h3v1h-3zM498 276h4v1h-4zM511 276h2v1h-2zM241 357h3v1h-3zM404 357h3v1h-3zM544 251h2v1h-2zM228 361h3v1h-3zM391 361h3v1h-3zM766 76h2v1h-2zM758 72h2v1h-2zM226 413h3v1h-3zM640 472h8v1h-8zM156 435h3v1h-3zM397 308h3v1h-3zM560 308h3v1h-3zM267 400h4v1h-4zM691 107h2v1h-2zM147 438h3v1h-3zM260 351h3v1h-3zM423 351h3v1h-3zM742 64h2v1h-2zM258 403h3v1h-3zM179 428h3v1h-3zM536 257h2v1h-2zM597 257h2v1h-2zM521 269h3v1h-3zM113 397h3v1h-3zM277 397h3v1h-3zM358 484h5v1h-5zM423 484h7v1h-7zM689 484h4v1h-4zM362 319h3v1h-3zM525 319h3v1h-3zM352 322h3v1h-3zM515 322h3v1h-3zM169 431h3v1h-3zM530 266h3v1h-3zM282 344h3v1h-3zM445 344h3v1h-3zM689 106h2v1h-2zM272 347h4v1h-4zM436 347h3v1h-3zM729 57h2v1h-2zM681 33h2v1h-2zM245 407h3v1h-3zM740 63h2v1h-2zM748 136h2v1h-2zM201 421h3v1h-3zM148 386h3v1h-3zM312 386h3v1h-3zM126 393h3v1h-3zM290 393h3v1h-3zM734 60h2v1h-2zM589 506h4v1h-4zM679 101h2v1h-2zM295 340h3v1h-3zM458 340h3v1h-3zM225 362h3v1h-3zM388 362h3v1h-3zM223 414h3v1h-3zM574 463h7v1h-7zM736 61h2v1h-2zM752 138h2v1h-2zM738 131h2v1h-2zM581 223h2v1h-2zM175 429h4v1h-4zM750 137h2v1h-2zM565 235h2v1h-2zM166 432h3v1h-3zM744 65h2v1h-2zM715 50h2v1h-2zM198 422h3v1h-3zM552 245h2v1h-2zM717 51h2v1h-2zM677 100h2v1h-2zM188 425h3v1h-3zM776 81h2v1h-2zM153 436h3v1h-3zM220 415h3v1h-3zM667 95h2v1h-2zM132 443h2v1h-2zM734 129h2v1h-2z" fill="#0000FF"/>
<path d="M651 195h1v1h-1zM686 152h1v1h-1zM732 94h1v1h-1zM736 90h1v1h-1zM530 309h1v1h-1zM539 255h1v1h-1zM600 255h1v1h-1zM603 255h1v1h-1zM667 175h1v1h-1zM492 291h1v1h-1zM553 291h1v1h-1zM574 291h1v1h-1zM735 91h1v1h-1zM518 271h1v1h-1zM579 271h1v1h-1zM590 271h1v1h-1zM501 331h1v1h-1zM554 244h1v1h-1zM612 244h1v1h-1zM517 272h1v1h-1zM578 272h1v1h-1zM589 272h1v1h-1zM703 130h1v1h-1zM593 267h1v1h-1zM580 224h1v1h-1zM628 224h1v1h-1zM524 314h1v1h-1zM555 314h1v1h-1zM577 273h1v1h-1zM588 273h1v1h-1zM623 230h1v1h-1zM591 270h1v1h-1zM542 253h1v1h-1zM509 278h1v1h-1zM584 278h1v1h-1zM508 326h1v1h-1zM488 294h1v1h-1zM571 294h1v1h-1zM742 82h1v1h-1zM496 288h1v1h-1zM557 288h1v1h-1zM576 288h1v1h-1zM741 83h1v1h-1zM704 44h1v1h-1zM773 44h1v1h-1zM748 75h1v1h-1zM514 321h1v1h-1zM751 71h1v1h-1zM514 274h1v1h-1zM587 274h1v1h-1zM705 128h1v1h-1zM548 295h1v1h-1zM571 295h1v1h-1zM708 124h1v1h-1zM712 120h1v1h-1zM587 265h1v1h-1zM595 265h1v1h-1zM714 117h1v1h-1zM513 275h1v1h-1zM574 275h1v1h-1zM587 275h1v1h-1zM525 313h1v1h-1zM556 313h1v1h-1zM568 298h1v1h-1zM553 317h1v1h-1zM745 79h1v1h-1zM481 299h1v1h-1zM567 299h1v1h-1zM563 304h1v1h-1zM726 102h1v1h-1zM761 59h1v1h-1zM693 108h1v1h-1zM721 108h1v1h-1zM505 281h1v1h-1zM582 281h1v1h-1zM631 220h1v1h-1zM737 88h1v1h-1zM534 259h1v1h-1zM600 259h1v1h-1zM528 264h1v1h-1zM596 264h1v1h-1zM613 242h1v1h-1zM560 286h1v1h-1zM578 286h1v1h-1zM764 55h1v1h-1zM770 48h1v1h-1zM583 268h1v1h-1zM592 268h1v1h-1zM733 93h1v1h-1zM564 236h1v1h-1zM618 236h1v1h-1zM587 219h1v1h-1zM632 219h1v1h-1zM556 289h1v1h-1zM575 289h1v1h-1zM685 153h1v1h-1zM720 110h1v1h-1zM680 159h1v1h-1zM715 116h1v1h-1zM579 284h1v1h-1zM696 139h1v1h-1zM535 305h1v1h-1zM562 305h1v1h-1zM712 119h1v1h-1zM769 49h1v1h-1zM772 45h1v1h-1zM561 307h1v1h-1zM657 188h1v1h-1zM563 237h1v1h-1zM617 237h1v1h-1zM558 310h1v1h-1zM633 217h1v1h-1zM652 87h1v1h-1zM738 87h1v1h-1zM604 254h1v1h-1zM749 74h1v1h-1zM552 292h1v1h-1zM573 292h1v1h-1zM706 127h1v1h-1zM485 296h1v1h-1zM570 296h1v1h-1zM679 161h1v1h-1zM500 332h1v1h-1zM660 184h1v1h-1zM543 252h1v1h-1zM504 282h1v1h-1zM565 282h1v1h-1zM581 282h1v1h-1zM616 239h1v1h-1zM530 262h1v1h-1zM597 262h1v1h-1zM493 290h1v1h-1zM575 290h1v1h-1zM608 248h1v1h-1zM766 52h1v1h-1zM731 58h1v1h-1zM761 58h1v1h-1zM669 96h1v1h-1zM731 96h1v1h-1zM734 92h1v1h-1zM480 300h1v1h-1zM541 300h1v1h-1zM567 300h1v1h-1zM598 261h1v1h-1zM709 123h1v1h-1zM776 40h1v1h-1zM744 80h1v1h-1zM725 103h1v1h-1zM554 316h1v1h-1zM697 41h1v1h-1zM775 41h1v1h-1zM741 84h1v1h-1zM720 109h1v1h-1zM584 221h1v1h-1zM630 221h1v1h-1zM662 181h1v1h-1zM707 126h1v1h-1zM505 328h1v1h-1zM708 125h1v1h-1zM689 148h1v1h-1zM534 306h1v1h-1zM562 306h1v1h-1zM592 215h1v1h-1zM635 215h1v1h-1zM724 105h1v1h-1zM684 154h1v1h-1zM700 111h1v1h-1zM719 111h1v1h-1zM752 70h1v1h-1zM539 302h1v1h-1zM565 302h1v1h-1zM645 203h1v1h-1zM626 226h1v1h-1zM661 183h1v1h-1zM569 232h1v1h-1zM621 232h1v1h-1zM718 112h1v1h-1zM484 297h1v1h-1zM569 297h1v1h-1zM554 315h1v1h-1zM637 212h1v1h-1zM579 225h1v1h-1zM627 225h1v1h-1zM770 47h1v1h-1zM510 277h1v1h-1zM572 277h1v1h-1zM585 277h1v1h-1zM567 234h1v1h-1zM620 234h1v1h-1zM564 283h1v1h-1zM580 283h1v1h-1zM526 312h1v1h-1zM557 312h1v1h-1zM559 240h1v1h-1zM615 240h1v1h-1zM552 318h1v1h-1zM529 263h1v1h-1zM596 263h1v1h-1zM737 89h1v1h-1zM754 67h1v1h-1zM702 132h1v1h-1zM538 303h1v1h-1zM564 303h1v1h-1zM749 73h1v1h-1zM561 285h1v1h-1zM579 285h1v1h-1zM497 287h1v1h-1zM577 287h1v1h-1zM746 77h1v1h-1zM758 62h1v1h-1zM716 114h1v1h-1zM716 115h1v1h-1zM508 279h1v1h-1zM583 279h1v1h-1zM729 98h1v1h-1zM724 104h1v1h-1zM690 147h1v1h-1zM669 173h1v1h-1zM650 196h1v1h-1zM666 176h1v1h-1zM538 256h1v1h-1zM599 256h1v1h-1zM602 256h1v1h-1zM504 329h1v1h-1zM489 293h1v1h-1zM551 293h1v1h-1zM572 293h1v1h-1zM527 311h1v1h-1zM558 311h1v1h-1zM540 301h1v1h-1zM566 301h1v1h-1zM677 163h1v1h-1zM583 280h1v1h-1zM693 143h1v1h-1zM672 169h1v1h-1zM771 46h1v1h-1zM568 233h1v1h-1zM620 233h1v1h-1zM588 218h1v1h-1zM633 218h1v1h-1zM558 241h1v1h-1zM614 241h1v1h-1zM649 198h1v1h-1zM609 247h1v1h-1zM644 204h1v1h-1zM576 227h1v1h-1zM625 227h1v1h-1zM573 276h1v1h-1zM586 276h1v1h-1zM606 251h1v1h-1zM680 32h1v1h-1zM747 76h1v1h-1zM750 72h1v1h-1zM608 249h1v1h-1zM555 243h1v1h-1zM612 243h1v1h-1zM721 53h1v1h-1zM766 53h1v1h-1zM703 113h1v1h-1zM717 113h1v1h-1zM531 308h1v1h-1zM753 68h1v1h-1zM695 140h1v1h-1zM756 140h1v1h-1zM722 107h1v1h-1zM701 133h1v1h-1zM757 64h1v1h-1zM535 258h1v1h-1zM596 258h1v1h-1zM600 258h1v1h-1zM662 182h1v1h-1zM643 205h1v1h-1zM678 162h1v1h-1zM638 211h1v1h-1zM673 168h1v1h-1zM654 191h1v1h-1zM649 197h1v1h-1zM601 257h1v1h-1zM582 269h1v1h-1zM591 269h1v1h-1zM637 213h1v1h-1zM517 319h1v1h-1zM653 193h1v1h-1zM648 199h1v1h-1zM583 222h1v1h-1zM629 222h1v1h-1zM513 322h1v1h-1zM586 266h1v1h-1zM594 266h1v1h-1zM723 106h1v1h-1zM730 97h1v1h-1zM765 54h1v1h-1zM762 57h1v1h-1zM757 63h1v1h-1zM562 238h1v1h-1zM616 238h1v1h-1zM699 136h1v1h-1zM683 155h1v1h-1zM710 122h1v1h-1zM666 177h1v1h-1zM647 200h1v1h-1zM682 157h1v1h-1zM642 206h1v1h-1zM760 60h1v1h-1zM658 186h1v1h-1zM727 101h1v1h-1zM625 228h1v1h-1zM641 208h1v1h-1zM759 61h1v1h-1zM697 138h1v1h-1zM703 131h1v1h-1zM739 86h1v1h-1zM774 43h1v1h-1zM629 223h1v1h-1zM695 141h1v1h-1zM676 164h1v1h-1zM655 190h1v1h-1zM711 121h1v1h-1zM671 170h1v1h-1zM687 150h1v1h-1zM698 137h1v1h-1zM654 192h1v1h-1zM670 172h1v1h-1zM619 235h1v1h-1zM665 178h1v1h-1zM646 201h1v1h-1zM641 207h1v1h-1zM607 250h1v1h-1zM610 246h1v1h-1zM756 65h1v1h-1zM768 50h1v1h-1zM611 245h1v1h-1zM728 56h1v1h-1zM763 56h1v1h-1zM774 42h1v1h-1zM740 85h1v1h-1zM784 85h1v1h-1zM700 134h1v1h-1zM767 51h1v1h-1zM728 100h1v1h-1zM743 81h1v1h-1zM683 156h1v1h-1zM664 179h1v1h-1zM659 185h1v1h-1zM694 142h1v1h-1zM675 165h1v1h-1zM691 145h1v1h-1zM670 171h1v1h-1zM636 214h1v1h-1zM658 187h1v1h-1zM639 210h1v1h-1zM674 167h1v1h-1zM591 216h1v1h-1zM634 216h1v1h-1zM745 78h1v1h-1zM732 95h1v1h-1zM688 149h1v1h-1zM704 129h1v1h-1zM699 135h1v1h-1zM533 260h1v1h-1zM599 260h1v1h-1zM652 194h1v1h-1zM687 151h1v1h-1zM668 174h1v1h-1zM663 180h1v1h-1zM679 160h1v1h-1zM624 229h1v1h-1zM674 166h1v1h-1zM640 209h1v1h-1zM622 231h1v1h-1zM676 99h1v1h-1zM728 99h1v1h-1zM755 66h1v1h-1zM681 158h1v1h-1zM692 144h1v1h-1zM645 202h1v1h-1zM656 189h1v1h-1zM691 146h1v1h-1z" fill="#16168A"/>
<g stroke="#0000FF" stroke-width="1" fill="none" shape-rendering="auto">
<ellipse cx="269.6" cy="401.2" rx="19.2" ry="15.1" stroke-width="1"/>
<ellipse cx="510.5" cy="331" rx="19.4" ry="15.7" stroke-width="1"/>
<ellipse cx="606.8" cy="254.8" rx="18.6" ry="15.7" stroke-width="1"/>
<ellipse cx="735.1" cy="99.1" rx="18.9" ry="14.7" stroke-width="1"/>
</g>
<g shape-rendering="auto">
<polygon points="739.9,58.7 750.2,49 755.6,63.6" fill="#FF0000"/>
<polygon points="720.2,84.3 723,80.5 721.8,78.5 724.7,76.2 728,78 731.6,76 734.1,91" fill="#FF0000"/>
</g>
<rect x="0" y="2" width="231" height="11" fill="#FFFFFF"/>
<polygon points="3,6 10,6 6.5,10" fill="#000" shape-rendering="auto"/>
<text x="15" y="11" font-family="Liberation Sans, Arial, sans-serif" font-size="9.3" fill="#000" stroke="#000" stroke-width="0.25" shape-rendering="auto" textLength="66" lengthAdjust="spacingAndGlyphs">USDCAD,Daily</text>
<text x="87" y="11" font-family="Liberation Sans, Arial, sans-serif" font-size="9.3" fill="#000" stroke="#000" stroke-width="0.25" shape-rendering="auto" textLength="33" lengthAdjust="spacingAndGlyphs">1.25077</text>
<text x="123.5" y="11" font-family="Liberation Sans, Arial, sans-serif" font-size="9.3" fill="#000" stroke="#000" stroke-width="0.25" shape-rendering="auto" textLength="33" lengthAdjust="spacingAndGlyphs">1.25360</text>
<text x="159" y="11" font-family="Liberation Sans, Arial, sans-serif" font-size="9.3" fill="#000" stroke="#000" stroke-width="0.25" shape-rendering="auto" textLength="33" lengthAdjust="spacingAndGlyphs">1.24219</text>
<text x="195" y="11" font-family="Liberation Sans, Arial, sans-serif" font-size="9.3" fill="#000" stroke="#000" stroke-width="0.25" shape-rendering="auto" textLength="33" lengthAdjust="spacingAndGlyphs">1.24465</text>
<rect x="0" y="464" width="70" height="9" fill="#FFFFFF"/>
<text x="4.5" y="470" font-family="Liberation Sans, Arial, sans-serif" font-size="9.3" fill="#000" stroke="#000" stroke-width="0.25" shape-rendering="auto" textLength="63.5" lengthAdjust="spacingAndGlyphs">Volumes 49608</text>
</svg>
</body></html>
